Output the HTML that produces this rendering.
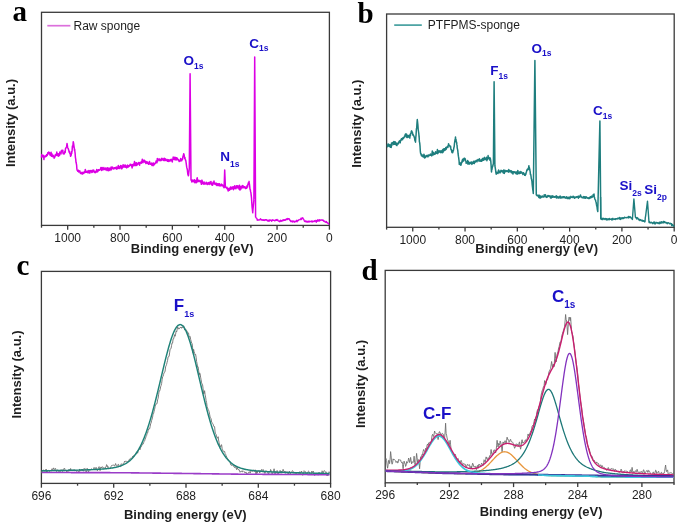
<!DOCTYPE html>
<html><head><meta charset="utf-8"><style>
html,body{margin:0;padding:0;background:#fff;}
svg{display:block;font-family:"Liberation Sans",sans-serif;will-change:transform;filter:blur(0.35px);}
</style></head><body>
<svg width="685" height="524" viewBox="0 0 685 524">
<text x="12.6" y="21.2" font-family="Liberation Serif" font-size="29" font-weight="bold" fill="#000">a</text>
<rect x="41.5" y="12.3" width="287.9" height="213.1" fill="none" stroke="#3a3a3a" stroke-width="1.3"/>
<line x1="41.50" y1="225.4" x2="41.50" y2="227.70000000000002" stroke="#3a3a3a" stroke-width="1.3"/>
<line x1="67.67" y1="225.4" x2="67.67" y2="229.70000000000002" stroke="#3a3a3a" stroke-width="1.3"/>
<text x="67.67" y="241.60" font-size="12" text-anchor="middle" fill="#1e1e1e">1000</text>
<line x1="93.85" y1="225.4" x2="93.85" y2="227.70000000000002" stroke="#3a3a3a" stroke-width="1.3"/>
<line x1="120.02" y1="225.4" x2="120.02" y2="229.70000000000002" stroke="#3a3a3a" stroke-width="1.3"/>
<text x="120.02" y="241.60" font-size="12" text-anchor="middle" fill="#1e1e1e">800</text>
<line x1="146.19" y1="225.4" x2="146.19" y2="227.70000000000002" stroke="#3a3a3a" stroke-width="1.3"/>
<line x1="172.36" y1="225.4" x2="172.36" y2="229.70000000000002" stroke="#3a3a3a" stroke-width="1.3"/>
<text x="172.36" y="241.60" font-size="12" text-anchor="middle" fill="#1e1e1e">600</text>
<line x1="198.54" y1="225.4" x2="198.54" y2="227.70000000000002" stroke="#3a3a3a" stroke-width="1.3"/>
<line x1="224.71" y1="225.4" x2="224.71" y2="229.70000000000002" stroke="#3a3a3a" stroke-width="1.3"/>
<text x="224.71" y="241.60" font-size="12" text-anchor="middle" fill="#1e1e1e">400</text>
<line x1="250.88" y1="225.4" x2="250.88" y2="227.70000000000002" stroke="#3a3a3a" stroke-width="1.3"/>
<line x1="277.05" y1="225.4" x2="277.05" y2="229.70000000000002" stroke="#3a3a3a" stroke-width="1.3"/>
<text x="277.05" y="241.60" font-size="12" text-anchor="middle" fill="#1e1e1e">200</text>
<line x1="303.23" y1="225.4" x2="303.23" y2="227.70000000000002" stroke="#3a3a3a" stroke-width="1.3"/>
<line x1="329.40" y1="225.4" x2="329.40" y2="229.70000000000002" stroke="#3a3a3a" stroke-width="1.3"/>
<text x="329.40" y="241.60" font-size="12" text-anchor="middle" fill="#1e1e1e">0</text>
<text x="192.2" y="252.7" font-size="13" font-weight="bold" text-anchor="middle" fill="#1e1e1e">Binding energy (eV)</text>
<text transform="translate(15.4,123.0) rotate(-90)" font-size="13" font-weight="bold" text-anchor="middle" fill="#1e1e1e">Intensity (a.u.)</text>
<line x1="47.3" y1="25.7" x2="70.4" y2="25.7" stroke="#dc70dc" stroke-width="1.7"/>
<text x="73.5" y="29.8" font-size="12" fill="#1e1e1e">Raw sponge</text>
<text x="183.5" y="65.3" font-size="13.5" font-weight="bold" fill="#1a10c8">O<tspan font-size="8.5" dy="3.3">1s</tspan></text>
<text x="249.3" y="47.8" font-size="13.5" font-weight="bold" fill="#1a10c8">C<tspan font-size="8.5" dy="3.3">1s</tspan></text>
<text x="220.3" y="161.2" font-size="13.5" font-weight="bold" fill="#1a10c8">N<tspan font-size="8.5" dy="5.6">1s</tspan></text>
<path d="M41.50,157.68 L41.80,154.47 L42.10,157.08 L42.40,155.94 L42.70,155.84 L43.00,155.86 L43.10,155.42 L43.30,155.88 L43.60,155.43 L43.90,159.56 L44.20,156.76 L44.50,156.37 L44.80,156.58 L45.10,156.37 L45.10,156.70 L45.40,156.21 L45.70,156.62 L46.00,155.52 L46.30,156.24 L46.60,154.73 L46.90,154.52 L47.20,155.55 L47.50,154.18 L47.80,152.77 L48.10,152.66 L48.40,152.93 L48.70,153.84 L48.70,151.92 L49.00,152.27 L49.30,153.95 L49.60,152.66 L49.90,153.72 L50.20,155.34 L50.20,154.67 L50.50,154.77 L50.80,155.50 L51.10,152.36 L51.40,156.20 L51.70,154.50 L52.00,154.01 L52.30,156.04 L52.60,156.63 L52.90,155.72 L53.20,155.31 L53.50,156.54 L53.80,156.65 L54.10,158.21 L54.30,157.21 L54.40,157.04 L54.70,157.48 L55.00,155.80 L55.30,154.69 L55.60,155.70 L55.90,155.27 L56.20,154.08 L56.40,153.78 L56.50,154.32 L56.80,152.03 L57.10,155.36 L57.40,155.47 L57.70,153.74 L58.00,155.66 L58.30,154.98 L58.40,156.22 L58.60,153.79 L58.90,154.44 L59.20,155.56 L59.50,155.57 L59.80,152.01 L60.10,153.17 L60.40,153.53 L60.70,152.23 L61.00,153.90 L61.30,150.84 L61.60,151.89 L61.90,150.14 L62.00,151.40 L62.20,151.18 L62.50,151.15 L62.80,150.17 L63.10,153.70 L63.40,153.12 L63.70,153.42 L64.00,154.08 L64.30,153.63 L64.50,153.32 L64.60,152.39 L64.90,151.32 L65.20,152.32 L65.50,148.57 L65.80,148.33 L66.10,147.53 L66.40,146.99 L66.70,146.26 L67.00,143.47 L67.10,143.81 L67.30,145.06 L67.60,147.35 L67.90,148.06 L68.20,148.68 L68.50,149.32 L68.60,150.08 L68.80,150.30 L69.10,152.11 L69.40,151.38 L69.70,153.06 L70.00,153.63 L70.10,154.15 L70.30,154.15 L70.60,156.27 L70.90,155.17 L71.20,155.08 L71.50,151.62 L71.70,153.40 L71.80,152.18 L72.10,151.02 L72.40,146.11 L72.70,147.15 L73.00,144.81 L73.20,141.93 L73.30,141.84 L73.60,143.43 L73.90,145.65 L74.20,147.64 L74.50,150.40 L74.70,149.34 L74.80,151.02 L75.10,153.12 L75.40,157.33 L75.70,159.04 L76.00,162.32 L76.30,162.68 L76.30,163.65 L76.60,164.94 L76.90,169.15 L77.20,170.35 L77.30,170.31 L77.50,170.10 L77.80,171.19 L78.10,170.27 L78.40,170.25 L78.70,171.79 L78.80,172.10 L79.00,171.31 L79.30,171.23 L79.60,170.87 L79.90,170.93 L80.20,172.91 L80.50,173.44 L80.80,172.85 L81.10,173.38 L81.40,173.39 L81.70,173.63 L82.00,172.26 L82.30,173.49 L82.40,174.03 L82.60,173.06 L82.90,173.05 L83.20,172.42 L83.50,172.58 L83.80,173.41 L84.10,171.91 L84.40,171.85 L84.70,172.47 L85.00,172.01 L85.00,171.88 L85.30,169.39 L85.60,172.16 L85.90,170.87 L86.20,171.43 L86.50,172.07 L86.80,172.28 L87.10,172.22 L87.40,171.35 L87.70,172.71 L88.00,170.89 L88.30,171.00 L88.60,171.86 L88.90,170.56 L89.20,173.11 L89.50,172.00 L89.80,173.07 L90.10,170.96 L90.40,170.59 L90.70,171.09 L91.00,171.61 L91.10,170.73 L91.30,171.28 L91.60,170.93 L91.90,172.51 L92.20,170.38 L92.50,172.03 L92.80,170.45 L93.10,170.18 L93.40,170.45 L93.70,170.02 L94.00,171.32 L94.30,172.19 L94.60,171.40 L94.90,171.87 L95.20,172.85 L95.50,171.59 L95.80,171.55 L96.10,171.13 L96.20,170.94 L96.40,172.04 L96.70,169.53 L97.00,171.69 L97.30,170.93 L97.60,171.89 L97.90,170.64 L98.20,169.79 L98.50,170.79 L98.80,169.80 L99.10,170.03 L99.40,170.12 L99.70,169.83 L100.00,169.66 L100.30,168.92 L100.60,169.41 L100.90,167.43 L101.20,169.19 L101.30,168.96 L101.50,170.36 L101.80,170.49 L102.10,167.42 L102.40,169.41 L102.70,169.14 L103.00,168.26 L103.30,169.75 L103.60,168.80 L103.90,167.55 L104.20,168.97 L104.50,169.07 L104.80,169.31 L105.00,168.85 L105.10,169.77 L105.40,169.83 L105.70,167.99 L106.00,168.39 L106.30,168.89 L106.60,168.37 L106.90,170.51 L107.20,169.00 L107.50,167.79 L107.80,167.95 L108.10,168.59 L108.40,170.77 L108.70,168.36 L109.00,168.60 L109.30,168.91 L109.60,168.33 L109.90,170.48 L110.00,168.15 L110.20,168.98 L110.50,168.39 L110.80,168.78 L111.10,167.03 L111.40,169.79 L111.70,167.96 L112.00,168.06 L112.30,167.10 L112.60,167.26 L112.90,168.45 L113.20,168.81 L113.50,168.55 L113.80,168.94 L114.10,168.43 L114.40,167.74 L114.70,168.46 L115.00,168.19 L115.30,167.49 L115.60,168.24 L115.90,168.73 L116.20,167.69 L116.50,167.09 L116.70,167.60 L116.80,169.20 L117.10,167.16 L117.40,167.25 L117.70,167.18 L118.00,168.44 L118.30,165.50 L118.60,167.57 L118.90,168.33 L119.20,166.39 L119.50,168.55 L119.80,167.62 L120.10,166.56 L120.40,167.25 L120.70,165.57 L121.00,166.46 L121.30,168.70 L121.60,166.09 L121.90,168.66 L122.20,166.81 L122.50,167.80 L122.80,166.87 L123.10,164.67 L123.40,166.23 L123.70,166.92 L124.00,165.62 L124.30,165.41 L124.60,167.01 L124.90,166.01 L125.20,164.99 L125.50,165.92 L125.80,167.36 L126.10,166.07 L126.40,167.38 L126.70,167.91 L127.00,166.46 L127.30,165.33 L127.60,165.14 L127.90,166.32 L128.20,167.16 L128.40,166.38 L128.50,166.79 L128.80,165.76 L129.10,166.37 L129.40,165.55 L129.70,165.60 L130.00,164.59 L130.30,164.23 L130.60,165.18 L130.90,164.49 L131.20,164.54 L131.50,166.00 L131.80,165.17 L132.10,167.95 L132.40,165.97 L132.70,164.40 L133.00,165.65 L133.30,165.16 L133.60,164.08 L133.90,165.69 L134.20,163.81 L134.50,161.55 L134.80,165.12 L135.10,163.69 L135.40,165.60 L135.70,163.48 L136.00,162.88 L136.30,165.39 L136.60,162.80 L136.90,163.93 L137.20,165.02 L137.50,163.66 L137.80,163.39 L138.10,163.47 L138.40,164.08 L138.70,162.43 L139.00,163.68 L139.30,163.56 L139.60,165.14 L139.90,162.51 L140.00,162.54 L140.20,163.40 L140.50,162.17 L140.80,162.66 L141.10,162.36 L141.40,163.19 L141.70,161.30 L142.00,161.68 L142.30,159.19 L142.60,160.62 L142.90,162.77 L143.20,160.51 L143.50,160.33 L143.50,160.65 L143.80,161.66 L144.10,161.39 L144.40,160.21 L144.70,162.08 L145.00,161.81 L145.30,162.39 L145.60,161.17 L145.90,163.54 L146.20,162.39 L146.50,162.01 L146.80,161.74 L147.10,162.11 L147.40,163.27 L147.70,162.31 L148.00,163.70 L148.30,163.34 L148.60,164.18 L148.90,163.78 L149.20,163.06 L149.50,161.42 L149.80,163.63 L150.10,164.21 L150.40,163.72 L150.70,164.21 L151.00,163.34 L151.30,163.54 L151.60,163.12 L151.90,165.42 L152.20,164.39 L152.50,163.88 L152.80,163.20 L152.90,164.46 L153.10,165.69 L153.40,164.49 L153.70,163.09 L154.00,164.87 L154.30,164.60 L154.60,163.91 L154.90,163.46 L155.20,163.54 L155.50,162.69 L155.80,162.64 L156.10,160.89 L156.40,162.79 L156.70,161.31 L157.00,162.75 L157.30,158.62 L157.60,160.96 L157.90,160.95 L158.20,159.42 L158.50,159.91 L158.70,159.51 L158.80,159.86 L159.10,158.83 L159.40,159.24 L159.70,160.37 L160.00,160.65 L160.30,159.56 L160.60,159.57 L160.90,159.72 L161.20,160.55 L161.50,158.59 L161.80,158.36 L162.10,159.77 L162.40,158.64 L162.70,159.16 L163.00,159.83 L163.30,160.24 L163.60,158.79 L163.90,160.61 L164.20,158.19 L164.50,160.43 L164.80,158.44 L165.10,158.76 L165.40,160.61 L165.70,159.65 L166.00,159.31 L166.30,159.67 L166.60,160.57 L166.90,160.11 L167.20,160.16 L167.50,161.22 L167.80,159.57 L168.10,159.84 L168.40,159.82 L168.70,161.46 L169.00,161.32 L169.20,160.77 L169.30,160.34 L169.60,160.13 L169.90,161.00 L170.20,159.73 L170.50,160.81 L170.80,160.62 L171.10,159.18 L171.40,159.68 L171.70,159.55 L172.00,161.23 L172.30,161.95 L172.60,159.31 L172.90,159.33 L173.20,157.06 L173.50,159.34 L173.80,159.05 L174.10,157.94 L174.40,159.62 L174.70,157.30 L175.00,158.50 L175.00,158.74 L175.30,157.59 L175.60,159.68 L175.90,159.95 L176.20,157.71 L176.50,157.77 L176.80,159.76 L177.10,159.24 L177.40,158.20 L177.70,159.15 L178.00,159.41 L178.30,159.46 L178.60,160.46 L178.90,160.12 L179.20,161.52 L179.50,161.22 L179.80,160.64 L179.80,160.31 L180.10,161.13 L180.40,160.42 L180.70,158.46 L181.00,160.32 L181.30,159.44 L181.60,160.79 L181.90,159.21 L182.20,159.50 L182.20,159.09 L182.50,159.62 L182.80,157.22 L183.10,155.82 L183.40,155.39 L183.70,153.71 L183.80,153.85 L184.00,154.52 L184.30,155.88 L184.60,158.54 L184.90,157.43 L185.20,158.94 L185.50,159.81 L185.50,160.19 L185.80,160.54 L186.10,162.66 L186.40,164.94 L186.70,167.15 L187.00,168.25 L187.30,169.47 L187.40,170.25 L187.60,172.05 L187.90,174.52 L188.20,175.05 L188.40,175.85 L188.50,175.42 L188.80,172.60 L189.10,170.20 L189.30,168.60 L189.40,156.75 L189.70,121.20 L190.00,85.65 L190.10,73.80 L190.30,97.40 L190.60,132.80 L190.90,168.20 L191.00,180.00 L191.20,180.10 L191.50,180.25 L191.80,181.93 L192.10,180.11 L192.20,180.96 L192.40,180.74 L192.70,180.39 L193.00,180.72 L193.30,181.81 L193.60,180.23 L193.90,180.79 L194.20,180.78 L194.50,179.71 L194.80,182.67 L195.00,181.66 L195.10,181.46 L195.40,182.51 L195.70,180.43 L196.00,181.20 L196.30,182.84 L196.60,182.06 L196.90,178.95 L197.20,177.83 L197.50,179.94 L197.80,181.86 L198.10,180.34 L198.40,180.51 L198.70,181.22 L198.90,180.35 L199.00,180.85 L199.30,181.56 L199.60,181.40 L199.90,181.49 L200.20,180.69 L200.50,181.91 L200.80,181.16 L201.10,182.96 L201.40,184.32 L201.70,181.33 L202.00,180.12 L202.30,181.93 L202.60,182.85 L202.90,183.64 L203.20,183.82 L203.50,182.20 L203.60,182.77 L203.80,184.22 L204.10,182.00 L204.40,184.10 L204.70,182.88 L205.00,183.84 L205.30,183.81 L205.60,183.90 L205.90,183.97 L206.20,182.28 L206.50,183.52 L206.80,183.28 L207.10,183.58 L207.40,184.49 L207.70,183.08 L208.00,182.69 L208.30,182.70 L208.40,183.31 L208.60,184.10 L208.90,182.58 L209.20,184.43 L209.50,183.58 L209.80,183.07 L210.10,181.99 L210.40,183.47 L210.70,183.87 L211.00,181.51 L211.30,184.29 L211.60,184.70 L211.90,183.43 L212.20,183.55 L212.50,185.35 L212.80,184.20 L213.10,182.16 L213.20,183.00 L213.40,182.91 L213.70,183.00 L214.00,180.99 L214.30,184.04 L214.60,182.80 L214.90,183.65 L215.20,183.45 L215.50,184.50 L215.80,183.48 L216.10,183.09 L216.40,184.44 L216.70,185.36 L217.00,183.80 L217.30,185.50 L217.60,184.53 L217.90,183.86 L218.00,184.83 L218.20,183.68 L218.50,185.51 L218.80,184.17 L219.10,185.16 L219.40,183.64 L219.70,184.11 L220.00,186.01 L220.30,185.26 L220.60,185.21 L220.90,184.85 L221.20,185.78 L221.50,184.12 L221.80,184.47 L222.10,185.47 L222.40,184.92 L222.70,185.13 L222.70,185.78 L223.00,186.08 L223.30,186.61 L223.60,187.02 L223.90,187.43 L224.10,187.70 L224.20,184.75 L224.50,175.90 L224.70,170.00 L224.80,172.46 L225.10,179.83 L225.40,187.20 L225.40,187.20 L225.70,187.35 L226.00,187.50 L226.30,187.65 L226.60,188.27 L226.90,187.20 L227.20,188.88 L227.50,188.14 L227.80,189.22 L228.10,190.99 L228.40,189.58 L228.40,189.36 L228.70,188.83 L229.00,188.31 L229.30,189.85 L229.60,190.18 L229.90,187.98 L230.20,188.54 L230.50,187.07 L230.80,188.20 L231.10,189.20 L231.40,188.23 L231.70,187.74 L232.00,186.90 L232.30,188.55 L232.30,188.43 L232.60,188.71 L232.90,188.33 L233.20,186.82 L233.50,189.65 L233.80,187.87 L234.10,187.73 L234.40,188.51 L234.70,185.70 L235.00,187.64 L235.30,187.52 L235.60,187.95 L235.90,188.82 L236.20,187.93 L236.50,185.69 L236.80,187.05 L237.10,187.51 L237.20,187.34 L237.40,186.14 L237.70,185.85 L238.00,188.03 L238.30,187.92 L238.60,187.65 L238.90,186.11 L239.20,189.52 L239.50,185.16 L239.80,187.65 L240.10,190.06 L240.20,188.06 L240.40,188.22 L240.70,186.74 L241.00,189.00 L241.30,186.34 L241.60,187.66 L241.90,187.41 L242.20,186.13 L242.50,187.83 L242.80,185.50 L243.10,186.05 L243.30,186.59 L243.40,186.26 L243.70,187.24 L244.00,187.83 L244.30,186.82 L244.60,186.74 L244.90,186.91 L245.20,187.20 L245.50,188.47 L245.80,187.64 L246.10,188.39 L246.30,188.07 L246.40,187.11 L246.70,188.16 L247.00,185.79 L247.30,186.21 L247.60,187.05 L247.90,184.03 L248.20,184.45 L248.50,182.43 L248.80,182.88 L249.10,181.38 L249.10,182.70 L249.40,183.94 L249.70,186.23 L250.00,189.26 L250.30,189.66 L250.60,191.64 L250.90,192.66 L250.90,192.64 L251.20,195.30 L251.50,197.84 L251.80,202.65 L252.10,207.13 L252.40,209.55 L252.70,212.12 L252.70,212.85 L253.00,209.08 L253.30,206.25 L253.60,203.13 L253.90,200.00 L253.90,200.00 L254.20,146.38 L254.50,92.75 L254.70,57.00 L254.80,74.78 L255.10,128.11 L255.40,181.44 L255.60,217.00 L255.70,217.17" fill="none" stroke="#dc00e4" stroke-width="1.5" stroke-linejoin="round"/>
<path d="M255.60,217.00 L255.70,217.17 L256.00,217.68 L256.30,218.19 L256.60,218.19 L256.90,218.54 L257.20,220.24 L257.30,220.03 L257.50,219.28 L257.80,219.98 L258.10,219.91 L258.40,220.12 L258.70,219.98 L259.00,219.70 L259.30,219.98 L259.60,219.96 L259.90,219.88 L260.20,219.16 L260.50,218.70 L260.80,219.58 L261.10,219.25 L261.40,220.00 L261.70,220.19 L262.00,220.01 L262.30,219.75 L262.60,219.93 L262.90,220.37 L263.20,219.61 L263.50,220.27 L263.80,220.18 L264.10,220.00 L264.40,220.48 L264.60,219.81 L264.70,220.29 L265.00,219.57 L265.30,219.67 L265.60,219.59 L265.90,220.22 L266.20,219.70 L266.50,220.13 L266.80,219.69 L267.10,220.60 L267.40,220.94 L267.70,220.33 L268.00,220.93 L268.30,220.53 L268.60,221.21 L268.90,220.41 L269.20,219.78 L269.50,221.03 L269.80,220.42 L270.10,220.09 L270.40,220.27 L270.70,219.92 L271.00,220.53 L271.30,220.21 L271.60,221.26 L271.90,220.97 L271.90,220.50 L272.20,220.05 L272.50,220.38 L272.80,219.79 L273.10,220.47 L273.40,220.45 L273.70,220.11 L274.00,220.15 L274.30,220.52 L274.60,220.85 L274.90,220.83 L275.20,220.20 L275.50,220.48 L275.80,219.79 L276.10,220.21 L276.40,219.61 L276.70,220.24 L277.00,219.40 L277.00,219.78 L277.30,220.10 L277.60,220.53 L277.90,219.94 L278.20,220.50 L278.50,220.98 L278.80,221.22 L279.10,221.00 L279.20,221.41 L279.40,221.24 L279.70,221.83 L280.00,221.42 L280.30,220.59 L280.60,220.16 L280.90,221.00 L281.20,221.36 L281.50,220.87 L281.80,221.08 L282.10,220.46 L282.40,220.03 L282.70,220.79 L283.00,220.46 L283.30,220.61 L283.60,219.71 L283.90,220.26 L284.20,219.86 L284.50,220.35 L284.80,219.72 L285.00,219.83 L285.10,219.63 L285.40,220.27 L285.70,219.67 L286.00,219.25 L286.30,219.05 L286.60,218.94 L286.90,219.84 L287.20,218.42 L287.50,218.71 L287.80,219.20 L288.10,219.31 L288.40,218.68 L288.70,218.95 L289.00,218.84 L289.10,218.62 L289.30,218.84 L289.60,219.97 L289.90,219.88 L290.20,220.89 L290.50,220.32 L290.80,221.62 L290.90,221.25 L291.10,220.81 L291.40,221.61 L291.70,221.08 L292.00,221.59 L292.30,220.98 L292.60,222.06 L292.90,221.42 L293.20,220.96 L293.50,221.49 L293.80,221.77 L294.10,221.11 L294.40,221.62 L294.70,222.24 L295.00,221.77 L295.30,221.42 L295.60,221.19 L295.90,221.65 L296.20,220.81 L296.50,220.21 L296.70,221.33 L296.80,220.93 L297.10,221.88 L297.40,221.05 L297.70,220.42 L298.00,220.17 L298.30,220.65 L298.60,219.94 L298.90,219.86 L299.20,219.87 L299.50,219.76 L299.80,219.58 L300.10,219.41 L300.40,219.70 L300.70,219.68 L301.00,218.16 L301.30,219.67 L301.60,218.51 L301.90,218.77 L302.20,217.80 L302.50,218.04 L302.80,217.82 L302.80,217.72 L303.10,218.65 L303.40,219.15 L303.70,219.08 L304.00,220.02 L304.30,220.94 L304.60,221.51 L304.70,221.37 L304.90,221.32 L305.20,221.37 L305.50,220.99 L305.80,220.92 L306.10,222.06 L306.40,221.27 L306.70,221.47 L307.00,221.13 L307.30,221.95 L307.60,222.13 L307.90,221.34 L308.20,221.64 L308.50,221.13 L308.80,222.14 L309.10,221.80 L309.40,221.09 L309.70,221.93 L310.00,221.57 L310.30,221.60 L310.60,221.57 L310.90,221.16 L311.20,221.21 L311.30,221.48 L311.50,221.40 L311.80,221.02 L312.10,222.19 L312.40,221.27 L312.70,221.11 L313.00,221.03 L313.30,221.57 L313.60,221.66 L313.90,221.35 L314.20,221.58 L314.50,220.61 L314.80,221.04 L315.10,220.98 L315.40,221.15 L315.70,221.32 L316.00,220.29 L316.30,222.34 L316.60,220.72 L316.90,221.18 L317.20,221.36 L317.20,221.11 L317.50,221.06 L317.80,219.73 L318.10,220.39 L318.40,221.07 L318.70,220.33 L319.00,220.21 L319.30,219.63 L319.60,220.99 L319.90,220.64 L320.20,220.01 L320.50,220.25 L320.80,220.20 L321.10,219.73 L321.40,220.00 L321.70,220.14 L322.00,220.20 L322.30,220.42 L322.30,219.91 L322.60,219.92 L322.90,220.46 L323.20,220.25 L323.50,220.19 L323.80,221.35 L324.10,220.94 L324.40,221.33 L324.70,221.74 L325.00,221.23 L325.20,221.88 L325.30,222.04 L325.60,221.96 L325.90,222.30 L326.20,221.98 L326.50,221.54 L326.80,222.45 L327.10,222.34 L327.40,223.20 L327.70,223.10 L328.00,222.92 L328.30,223.29 L328.60,223.96 L328.90,224.01 L329.00,223.65" fill="none" stroke="#dc00e4" stroke-width="1.3" stroke-linejoin="round"/>
<text x="357.4" y="22.6" font-family="Liberation Serif" font-size="29" font-weight="bold" fill="#000">b</text>
<rect x="386.6" y="14.0" width="287.6" height="213.3" fill="none" stroke="#3a3a3a" stroke-width="1.3"/>
<line x1="386.60" y1="227.3" x2="386.60" y2="229.60000000000002" stroke="#3a3a3a" stroke-width="1.3"/>
<line x1="412.75" y1="227.3" x2="412.75" y2="231.60000000000002" stroke="#3a3a3a" stroke-width="1.3"/>
<text x="412.75" y="243.50" font-size="12" text-anchor="middle" fill="#1e1e1e">1000</text>
<line x1="438.89" y1="227.3" x2="438.89" y2="229.60000000000002" stroke="#3a3a3a" stroke-width="1.3"/>
<line x1="465.04" y1="227.3" x2="465.04" y2="231.60000000000002" stroke="#3a3a3a" stroke-width="1.3"/>
<text x="465.04" y="243.50" font-size="12" text-anchor="middle" fill="#1e1e1e">800</text>
<line x1="491.18" y1="227.3" x2="491.18" y2="229.60000000000002" stroke="#3a3a3a" stroke-width="1.3"/>
<line x1="517.33" y1="227.3" x2="517.33" y2="231.60000000000002" stroke="#3a3a3a" stroke-width="1.3"/>
<text x="517.33" y="243.50" font-size="12" text-anchor="middle" fill="#1e1e1e">600</text>
<line x1="543.47" y1="227.3" x2="543.47" y2="229.60000000000002" stroke="#3a3a3a" stroke-width="1.3"/>
<line x1="569.62" y1="227.3" x2="569.62" y2="231.60000000000002" stroke="#3a3a3a" stroke-width="1.3"/>
<text x="569.62" y="243.50" font-size="12" text-anchor="middle" fill="#1e1e1e">400</text>
<line x1="595.76" y1="227.3" x2="595.76" y2="229.60000000000002" stroke="#3a3a3a" stroke-width="1.3"/>
<line x1="621.91" y1="227.3" x2="621.91" y2="231.60000000000002" stroke="#3a3a3a" stroke-width="1.3"/>
<text x="621.91" y="243.50" font-size="12" text-anchor="middle" fill="#1e1e1e">200</text>
<line x1="648.05" y1="227.3" x2="648.05" y2="229.60000000000002" stroke="#3a3a3a" stroke-width="1.3"/>
<line x1="674.20" y1="227.3" x2="674.20" y2="231.60000000000002" stroke="#3a3a3a" stroke-width="1.3"/>
<text x="674.20" y="243.50" font-size="12" text-anchor="middle" fill="#1e1e1e">0</text>
<text x="536.7" y="252.5" font-size="13" font-weight="bold" text-anchor="middle" fill="#1e1e1e">Binding energy (eV)</text>
<text transform="translate(361.0,123.7) rotate(-90)" font-size="13" font-weight="bold" text-anchor="middle" fill="#1e1e1e">Intensity (a.u.)</text>
<line x1="394.2" y1="25.1" x2="421.8" y2="25.1" stroke="#3a9a9a" stroke-width="1.6"/>
<text x="427.8" y="29.3" font-size="12" fill="#1e1e1e">PTFPMS-sponge</text>
<text x="490.3" y="75.3" font-size="13.5" font-weight="bold" fill="#1a10c8">F<tspan font-size="8.5" dy="3.3">1s</tspan></text>
<text x="531.6" y="52.5" font-size="13.5" font-weight="bold" fill="#1a10c8">O<tspan font-size="8.5" dy="3.3">1s</tspan></text>
<text x="593.1" y="115.2" font-size="13.5" font-weight="bold" fill="#1a10c8">C<tspan font-size="8.5" dy="3.3">1s</tspan></text>
<text x="619.6" y="189.8" font-size="13.5" font-weight="bold" fill="#1a10c8">Si<tspan font-size="8.5" dy="5.7">2s</tspan></text>
<text x="644.2" y="194.2" font-size="13.5" font-weight="bold" fill="#1a10c8">Si<tspan font-size="8.5" dy="5.4">2p</tspan></text>
<path d="M387.00,144.51 L387.30,144.72 L387.60,146.64 L387.90,145.87 L388.20,143.87 L388.50,145.60 L388.80,145.20 L389.10,146.11 L389.40,144.63 L389.70,146.57 L390.00,146.74 L390.30,147.15 L390.30,147.00 L390.60,146.74 L390.90,144.40 L391.20,147.50 L391.50,143.11 L391.80,145.52 L392.10,143.72 L392.40,142.75 L392.70,142.52 L393.00,142.51 L393.00,143.06 L393.30,142.75 L393.60,144.40 L393.90,141.42 L394.20,143.30 L394.50,142.61 L394.80,144.33 L395.10,141.74 L395.40,143.57 L395.70,144.25 L396.00,142.79 L396.30,145.28 L396.60,144.67 L396.90,145.60 L397.00,144.97 L397.20,143.53 L397.50,143.33 L397.80,143.53 L398.10,144.06 L398.40,143.79 L398.70,141.95 L399.00,141.68 L399.30,141.13 L399.60,140.97 L399.70,141.33 L399.90,141.08 L400.20,142.85 L400.50,140.12 L400.80,140.03 L401.10,140.43 L401.40,138.80 L401.70,139.05 L402.00,139.11 L402.30,139.53 L402.40,138.33 L402.60,139.75 L402.90,137.76 L403.20,137.89 L403.50,138.17 L403.80,137.63 L404.10,137.64 L404.40,136.44 L404.70,135.89 L405.00,135.85 L405.30,134.25 L405.60,135.97 L405.70,134.48 L405.90,133.67 L406.20,137.05 L406.50,135.23 L406.80,134.49 L407.10,137.59 L407.40,135.78 L407.70,137.34 L408.00,135.80 L408.30,136.59 L408.60,135.48 L408.90,135.52 L409.00,137.12 L409.20,136.93 L409.50,137.15 L409.80,138.09 L410.10,134.23 L410.40,135.55 L410.70,133.43 L411.00,133.26 L411.30,131.41 L411.60,130.81 L411.70,131.78 L411.90,131.22 L412.20,132.85 L412.50,132.70 L412.80,135.05 L413.10,134.52 L413.40,135.05 L413.70,135.72 L413.70,135.89 L414.00,136.36 L414.30,137.31 L414.60,138.29 L414.90,140.41 L415.20,141.14 L415.50,141.50 L415.50,142.15 L415.80,137.22 L416.10,134.55 L416.40,129.07 L416.70,128.00 L417.00,123.15 L417.30,119.45 L417.30,119.96 L417.60,122.39 L417.90,125.16 L418.20,129.52 L418.50,131.51 L418.80,133.54 L419.10,137.52 L419.10,135.80 L419.40,141.78 L419.70,142.89 L420.00,145.91 L420.30,150.81 L420.60,153.54 L420.80,153.43 L420.90,154.10 L421.20,154.89 L421.50,155.80 L421.80,154.45 L422.10,155.05 L422.40,156.42 L422.70,155.88 L423.00,156.69 L423.30,156.90 L423.60,155.62 L423.70,156.56 L423.90,154.29 L424.20,156.47 L424.50,157.91 L424.80,155.57 L425.10,157.71 L425.40,157.44 L425.70,156.40 L426.00,156.39 L426.30,156.42 L426.60,155.49 L426.90,155.98 L427.20,156.14 L427.50,156.71 L427.70,156.32 L427.80,155.35 L428.10,156.67 L428.40,155.02 L428.70,155.44 L429.00,155.80 L429.30,155.28 L429.60,155.03 L429.90,155.25 L430.20,154.33 L430.50,154.09 L430.80,154.36 L431.10,155.30 L431.40,154.15 L431.70,155.88 L432.00,154.15 L432.30,151.02 L432.60,153.24 L432.90,155.06 L433.10,153.40 L433.20,152.97 L433.50,152.49 L433.80,154.46 L434.10,154.09 L434.40,153.71 L434.70,153.41 L435.00,154.28 L435.30,153.63 L435.60,151.64 L435.90,153.43 L436.20,152.80 L436.50,152.46 L436.80,153.20 L437.10,152.45 L437.40,149.61 L437.70,153.72 L438.00,153.17 L438.30,152.01 L438.40,152.00 L438.60,152.26 L438.90,150.78 L439.20,152.19 L439.50,151.62 L439.80,151.43 L440.10,150.83 L440.40,150.99 L440.70,152.58 L441.00,152.72 L441.30,151.87 L441.60,151.29 L441.90,150.44 L442.20,151.85 L442.50,152.61 L442.80,149.54 L443.10,152.06 L443.40,148.88 L443.70,150.51 L443.80,150.91 L444.00,149.26 L444.30,148.73 L444.60,149.91 L444.90,150.16 L445.20,148.50 L445.50,149.80 L445.80,147.42 L446.10,149.38 L446.40,147.46 L446.70,147.17 L447.00,147.13 L447.30,146.46 L447.60,147.48 L447.90,147.41 L448.20,145.47 L448.40,144.65 L448.50,143.71 L448.80,144.40 L449.10,145.41 L449.40,145.61 L449.70,145.96 L450.00,146.30 L450.30,147.06 L450.40,146.32 L450.60,146.36 L450.90,149.27 L451.20,149.92 L451.50,149.56 L451.80,152.17 L452.10,151.26 L452.40,152.73 L452.40,151.11 L452.70,152.58 L453.00,150.78 L453.30,150.77 L453.60,149.43 L453.80,148.13 L453.90,147.58 L454.20,146.53 L454.50,143.26 L454.80,141.26 L455.10,139.46 L455.40,138.13 L455.50,136.96 L455.70,139.58 L456.00,139.36 L456.30,142.24 L456.60,142.10 L456.90,144.90 L457.10,145.44 L457.20,147.84 L457.50,149.20 L457.80,150.62 L458.10,153.97 L458.40,156.16 L458.70,157.95 L459.00,160.37 L459.10,161.15 L459.30,164.48 L459.60,162.79 L459.90,164.30 L460.20,163.05 L460.50,163.85 L460.70,165.27 L460.80,164.89 L461.10,164.81 L461.40,162.18 L461.70,162.65 L462.00,162.59 L462.20,160.26 L462.30,161.31 L462.60,159.33 L462.90,160.29 L463.20,160.06 L463.50,161.08 L463.80,158.59 L464.10,159.13 L464.40,159.69 L464.50,158.29 L464.70,158.91 L465.00,158.52 L465.30,159.07 L465.60,160.76 L465.90,161.18 L466.20,163.31 L466.50,162.61 L466.80,162.93 L467.10,161.99 L467.40,162.43 L467.40,162.67 L467.70,160.50 L468.00,164.19 L468.30,162.09 L468.60,161.79 L468.90,162.40 L469.20,163.68 L469.50,164.08 L469.80,162.64 L470.10,163.44 L470.40,163.04 L470.70,162.23 L471.00,163.36 L471.30,163.29 L471.60,161.90 L471.90,164.38 L472.20,162.97 L472.20,163.64 L472.50,162.28 L472.80,162.31 L473.10,162.23 L473.40,163.35 L473.70,161.36 L474.00,162.16 L474.30,163.58 L474.60,161.33 L474.90,161.76 L475.20,162.22 L475.50,160.89 L475.80,161.68 L476.10,160.45 L476.40,161.52 L476.70,160.75 L477.00,160.25 L477.00,161.81 L477.30,160.37 L477.60,160.14 L477.90,159.49 L478.20,159.85 L478.50,160.14 L478.80,160.33 L479.10,161.12 L479.40,158.84 L479.70,159.68 L480.00,161.04 L480.30,160.05 L480.60,160.20 L480.90,161.23 L481.20,160.02 L481.50,160.08 L481.70,159.59 L481.80,161.21 L482.10,160.49 L482.40,158.80 L482.70,159.91 L483.00,158.29 L483.30,160.27 L483.60,159.83 L483.90,159.00 L484.20,158.72 L484.50,157.38 L484.80,159.66 L485.10,158.79 L485.40,158.55 L485.70,159.43 L486.00,158.10 L486.30,158.11 L486.50,158.41 L486.60,157.35 L486.90,160.75 L487.20,158.33 L487.50,158.14 L487.80,159.24 L488.10,155.49 L488.40,158.31 L488.70,158.30 L489.00,157.36 L489.30,158.63 L489.40,157.64 L489.60,158.66 L489.90,160.17 L490.20,158.02 L490.50,159.43 L490.80,161.44 L490.80,161.42 L491.10,165.33 L491.40,170.74 L491.50,172.04 L491.70,169.71 L492.00,169.42 L492.30,166.91 L492.60,166.77 L492.70,166.30 L492.90,165.47 L493.20,164.23 L493.40,163.40 L493.50,151.73 L493.80,116.71 L494.10,81.70 L494.10,81.70 L494.40,113.20 L494.70,144.70 L494.90,165.70 L495.00,166.33 L495.30,168.22 L495.60,170.12 L495.90,172.56 L496.20,174.24 L496.20,173.23 L496.50,173.28 L496.80,172.34 L497.10,173.19 L497.40,172.58 L497.70,172.63 L498.00,173.51 L498.30,170.83 L498.50,171.67 L498.60,170.11 L498.90,172.39 L499.20,170.98 L499.50,171.32 L499.80,171.51 L500.10,172.89 L500.40,171.36 L500.70,170.94 L501.00,170.31 L501.30,171.64 L501.60,170.61 L501.90,170.93 L502.20,171.37 L502.50,172.00 L502.80,170.74 L503.10,172.00 L503.40,173.00 L503.70,170.03 L504.00,172.63 L504.30,173.35 L504.40,171.31 L504.60,171.96 L504.90,170.18 L505.20,171.76 L505.50,171.17 L505.80,171.77 L506.10,170.68 L506.40,170.79 L506.70,171.15 L507.00,170.93 L507.30,171.03 L507.60,171.43 L507.90,170.62 L508.20,171.52 L508.50,172.11 L508.80,169.59 L509.10,171.89 L509.40,171.06 L509.70,170.73 L510.00,170.55 L510.30,171.02 L510.60,171.13 L510.90,172.14 L511.20,170.70 L511.50,172.82 L511.80,171.15 L512.10,172.54 L512.40,172.93 L512.60,171.72 L512.70,172.94 L513.00,173.98 L513.30,171.63 L513.60,172.60 L513.90,171.98 L514.20,172.21 L514.50,171.99 L514.80,171.74 L515.10,172.88 L515.40,173.05 L515.70,172.28 L516.00,173.68 L516.30,173.32 L516.60,173.00 L516.90,171.74 L517.20,174.14 L517.50,173.64 L517.80,170.52 L518.10,171.48 L518.40,172.08 L518.70,173.39 L519.00,173.69 L519.30,172.32 L519.60,172.83 L519.90,173.26 L520.20,171.50 L520.50,173.21 L520.70,172.62 L520.80,172.90 L521.10,172.81 L521.40,171.90 L521.70,172.18 L522.00,173.23 L522.30,173.43 L522.60,173.19 L522.90,174.50 L523.20,173.33 L523.50,172.67 L523.80,173.57 L524.10,173.84 L524.40,174.00 L524.70,175.28 L525.00,174.81 L525.30,175.41 L525.40,174.67 L525.60,173.85 L525.90,174.18 L526.20,172.25 L526.50,171.96 L526.80,170.08 L527.10,170.32 L527.40,169.18 L527.70,169.06 L528.00,169.61 L528.30,169.35 L528.60,167.38 L528.90,165.69 L528.90,166.45 L529.20,167.36 L529.50,168.06 L529.80,170.00 L530.10,171.43 L530.10,170.96 L530.40,174.41 L530.70,174.34 L531.00,176.04 L531.30,178.78 L531.60,179.18 L531.80,180.59 L531.90,181.00 L532.20,184.76 L532.50,187.22 L532.80,189.71 L533.10,191.58 L533.30,193.46 L533.40,185.37 L533.70,160.40 L534.00,135.42 L534.30,110.45 L534.60,85.47 L534.90,60.50 L534.90,60.50 L535.20,89.30 L535.50,118.10 L535.80,146.90 L536.10,175.70 L536.30,194.90 L536.40,194.96 L536.70,195.09 L537.00,195.74 L537.30,195.44 L537.60,195.18 L537.90,196.05 L538.20,196.18 L538.50,195.25 L538.80,197.39 L539.10,196.81 L539.40,195.31 L539.70,196.52 L540.00,197.52 L540.00,198.17 L540.30,197.29 L540.60,196.02 L540.90,196.80 L541.20,197.48 L541.50,196.99 L541.80,196.47 L542.10,196.13 L542.40,196.97 L542.70,196.26 L543.00,196.49 L543.30,196.50 L543.60,197.09 L543.90,196.13 L544.20,195.95 L544.20,194.86 L544.50,196.62 L544.80,196.52 L545.10,196.01 L545.40,194.69 L545.70,195.74 L546.00,196.15 L546.30,197.39 L546.60,196.52 L546.90,196.67 L547.20,196.72 L547.50,197.05 L547.80,195.62 L548.10,195.82 L548.40,195.65 L548.70,196.21 L549.00,196.20 L549.30,196.50 L549.60,195.87 L549.90,196.56 L550.20,196.03 L550.50,197.82 L550.80,196.28 L551.10,198.13 L551.40,197.62 L551.70,195.98 L552.00,197.28 L552.30,197.10 L552.60,195.87 L552.90,197.17 L553.20,196.78 L553.50,197.07 L553.80,196.40 L554.10,196.89 L554.40,197.20 L554.70,196.88 L555.00,196.66 L555.30,196.96 L555.60,196.51 L555.90,197.31 L556.20,195.64 L556.50,198.06 L556.80,197.24 L557.10,197.51 L557.40,197.77 L557.70,196.57 L557.90,197.71 L558.00,196.66 L558.30,197.60 L558.60,197.53 L558.90,198.12 L559.20,197.35 L559.50,196.55 L559.80,197.57 L560.10,195.95 L560.40,197.28 L560.70,197.14 L561.00,198.33 L561.30,197.27 L561.60,197.18 L561.90,197.01 L562.20,196.96 L562.50,197.15 L562.80,197.83 L563.10,196.72 L563.40,197.38 L563.70,196.66 L564.00,197.42 L564.30,197.62 L564.60,196.82 L564.90,197.22 L565.20,197.62 L565.50,198.01 L565.80,198.13 L566.10,197.52 L566.40,197.02 L566.70,196.67 L567.00,198.07 L567.30,198.43 L567.60,197.85 L567.90,198.55 L568.20,197.40 L568.50,197.44 L568.80,198.59 L569.10,197.11 L569.40,197.80 L569.40,197.92 L569.70,197.76 L570.00,198.64 L570.30,197.11 L570.60,197.34 L570.90,196.35 L571.20,196.92 L571.50,197.20 L571.80,197.24 L572.10,197.32 L572.40,197.58 L572.70,197.00 L573.00,196.21 L573.30,197.41 L573.60,197.54 L573.90,196.60 L574.20,196.78 L574.50,198.22 L574.80,197.77 L575.10,197.77 L575.40,197.50 L575.70,197.18 L576.00,196.77 L576.30,197.36 L576.60,196.89 L576.90,196.72 L577.20,196.94 L577.50,196.87 L577.80,197.40 L578.10,196.31 L578.40,198.25 L578.70,196.23 L579.00,196.53 L579.30,197.28 L579.60,196.24 L579.90,196.41 L580.20,196.67 L580.50,194.94 L580.80,196.51 L580.80,196.05 L581.10,196.52 L581.40,197.01 L581.70,197.16 L582.00,197.71 L582.30,197.74 L582.60,197.57 L582.90,197.03 L583.20,197.71 L583.50,196.61 L583.80,197.19 L584.10,198.12 L584.40,197.82 L584.70,196.64 L585.00,197.40 L585.00,198.01 L585.30,197.90 L585.60,198.21 L585.90,196.65 L586.20,196.98 L586.50,197.60 L586.80,197.24 L587.10,197.82 L587.40,197.89 L587.70,198.13 L588.00,197.91 L588.30,198.35 L588.60,198.52 L588.90,198.22 L589.20,197.49 L589.40,198.42 L589.50,198.27 L589.80,198.19 L590.10,197.85 L590.40,196.65 L590.70,197.68 L591.00,196.79 L591.30,196.27 L591.60,197.48 L591.90,196.39 L592.20,196.53 L592.50,196.67 L592.80,196.88 L593.10,194.76 L593.40,195.16 L593.70,195.75 L593.80,195.19 L594.00,194.09 L594.30,196.89 L594.60,197.84 L594.90,199.05 L595.20,199.64 L595.50,200.16 L595.80,201.43 L596.00,201.90 L596.10,202.16 L596.40,204.16 L596.70,205.80 L597.00,206.62 L597.30,209.34 L597.60,210.81 L597.80,211.53 L597.90,205.58 L598.20,194.26 L598.50,181.27 L598.80,168.35 L599.10,155.44 L599.40,142.52 L599.70,129.61 L599.90,121.00 L600.00,131.86 L600.30,164.42 L600.60,196.99 L600.80,218.70 L600.90,218.71" fill="none" stroke="#1e7e7e" stroke-width="1.5" stroke-linejoin="round"/>
<path d="M600.60,196.99 L600.80,218.70 L600.90,218.71 L601.20,218.75 L601.50,219.46 L601.80,219.33 L602.10,218.27 L602.40,219.52 L602.70,219.65 L603.00,219.34 L603.30,218.82 L603.60,218.34 L603.90,218.65 L604.20,218.83 L604.50,219.25 L604.80,219.41 L605.10,218.86 L605.40,218.48 L605.70,219.07 L606.00,218.69 L606.30,219.93 L606.60,218.80 L606.90,219.46 L606.90,219.76 L607.20,218.93 L607.50,219.82 L607.80,219.28 L608.10,218.98 L608.40,218.89 L608.70,219.36 L609.00,219.78 L609.30,218.42 L609.60,219.55 L609.90,219.19 L610.20,218.90 L610.50,219.18 L610.80,219.21 L611.10,219.18 L611.40,219.56 L611.70,218.77 L612.00,220.06 L612.30,219.56 L612.60,218.88 L612.90,218.26 L613.20,219.11 L613.50,218.93 L613.80,219.44 L614.10,219.42 L614.20,219.36 L614.40,219.00 L614.70,219.38 L615.00,218.80 L615.30,218.78 L615.60,219.61 L615.90,218.82 L616.20,218.80 L616.50,218.65 L616.80,218.92 L617.10,219.01 L617.40,218.65 L617.70,218.14 L618.00,218.78 L618.30,218.22 L618.60,218.39 L618.90,218.62 L619.20,218.60 L619.50,217.39 L619.80,219.18 L620.10,218.74 L620.40,219.22 L620.70,219.44 L621.00,217.83 L621.30,217.97 L621.50,218.23 L621.60,218.61 L621.90,217.92 L622.20,217.97 L622.50,218.57 L622.80,217.64 L623.10,218.11 L623.40,218.47 L623.70,217.82 L624.00,218.26 L624.30,217.81 L624.60,217.11 L624.90,217.55 L625.20,217.67 L625.50,217.57 L625.80,217.70 L626.10,217.83 L626.40,217.75 L626.70,217.66 L627.00,217.35 L627.30,217.41 L627.60,217.30 L627.90,217.17 L628.20,218.02 L628.50,216.50 L628.80,217.43 L629.10,216.55 L629.40,216.98 L629.70,217.58 L630.00,217.05 L630.30,217.37 L630.30,216.71 L630.60,217.32 L630.90,217.48 L631.20,218.08 L631.50,218.24 L631.80,218.53 L632.10,219.05 L632.40,219.40 L632.40,219.40 L632.70,215.32 L633.00,211.24 L633.30,207.16 L633.60,203.08 L633.90,199.00 L633.90,199.00 L634.20,202.64 L634.50,206.28 L634.80,209.92 L635.10,213.56 L635.40,217.20 L635.40,217.20 L635.70,217.44 L636.00,217.58 L636.30,218.44 L636.60,218.89 L636.90,217.45 L637.20,218.61 L637.50,218.06 L637.80,217.97 L638.10,218.54 L638.40,219.43 L638.70,219.02 L639.00,219.32 L639.00,219.99 L639.30,219.70 L639.60,219.56 L639.90,220.53 L640.20,220.05 L640.50,219.61 L640.80,219.57 L641.10,219.98 L641.40,220.37 L641.70,220.83 L642.00,220.90 L642.30,220.68 L642.60,220.22 L642.90,221.28 L643.20,221.01 L643.50,220.59 L643.80,220.63 L644.10,221.40 L644.40,221.57 L644.70,221.89 L644.90,221.43 L645.00,221.68 L645.30,217.63 L645.60,216.08 L645.90,213.75 L646.20,211.40 L646.50,209.05 L646.80,206.69 L647.10,204.34 L647.40,201.98 L647.50,201.20 L647.70,204.01 L648.00,208.23 L648.30,212.45 L648.60,216.67 L648.90,220.89 L649.00,222.30 L649.20,222.53 L649.50,221.77 L649.80,222.48 L650.10,223.01 L650.40,222.49 L650.70,222.74 L651.00,222.73 L651.30,222.23 L651.60,222.44 L651.90,222.67 L652.20,222.91 L652.50,223.65 L652.80,223.51 L653.10,222.60 L653.40,222.65 L653.70,222.42 L654.00,221.87 L654.30,223.56 L654.60,223.24 L654.90,222.16 L655.10,223.09 L655.20,224.13 L655.50,223.26 L655.80,223.25 L656.10,223.09 L656.40,222.62 L656.70,222.41 L657.00,222.55 L657.30,222.97 L657.60,222.77 L657.90,223.17 L658.20,223.63 L658.50,223.08 L658.80,223.17 L659.10,222.61 L659.40,222.15 L659.70,223.71 L660.00,223.03 L660.30,223.21 L660.60,222.48 L660.90,221.86 L661.20,223.21 L661.50,221.60 L661.80,222.48 L662.10,222.29 L662.40,222.61 L662.70,222.86 L663.00,222.84 L663.30,221.48 L663.60,222.87 L663.90,221.53 L664.20,222.68 L664.50,222.15 L664.80,221.80 L665.10,222.06 L665.30,222.11 L665.40,222.30 L665.70,222.82 L666.00,222.83 L666.30,222.56 L666.60,223.12 L666.90,222.93 L667.20,223.76 L667.50,223.09 L667.80,222.66 L668.10,222.88 L668.40,222.74 L668.70,223.03 L669.00,223.18 L669.30,223.63 L669.60,223.75 L669.90,223.50 L670.20,223.75 L670.50,223.29 L670.80,223.46 L671.10,223.46 L671.10,223.43 L671.40,223.86 L671.70,225.56 L672.00,224.07 L672.30,225.01 L672.60,225.13 L672.90,224.86 L673.20,226.00 L673.50,226.19 L673.80,225.82 L674.00,226.38" fill="none" stroke="#1e7e7e" stroke-width="1.4" stroke-linejoin="round"/>
<text x="16.5" y="274.5" font-family="Liberation Serif" font-size="29" font-weight="bold" fill="#000">c</text>
<rect x="41.4" y="271.4" width="289.20000000000005" height="212.0" fill="none" stroke="#3a3a3a" stroke-width="1.3"/>
<line x1="41.40" y1="483.4" x2="41.40" y2="487.7" stroke="#3a3a3a" stroke-width="1.3"/>
<text x="41.40" y="499.60" font-size="12" text-anchor="middle" fill="#1e1e1e">696</text>
<line x1="77.55" y1="483.4" x2="77.55" y2="485.7" stroke="#3a3a3a" stroke-width="1.3"/>
<line x1="113.70" y1="483.4" x2="113.70" y2="487.7" stroke="#3a3a3a" stroke-width="1.3"/>
<text x="113.70" y="499.60" font-size="12" text-anchor="middle" fill="#1e1e1e">692</text>
<line x1="149.85" y1="483.4" x2="149.85" y2="485.7" stroke="#3a3a3a" stroke-width="1.3"/>
<line x1="186.00" y1="483.4" x2="186.00" y2="487.7" stroke="#3a3a3a" stroke-width="1.3"/>
<text x="186.00" y="499.60" font-size="12" text-anchor="middle" fill="#1e1e1e">688</text>
<line x1="222.15" y1="483.4" x2="222.15" y2="485.7" stroke="#3a3a3a" stroke-width="1.3"/>
<line x1="258.30" y1="483.4" x2="258.30" y2="487.7" stroke="#3a3a3a" stroke-width="1.3"/>
<text x="258.30" y="499.60" font-size="12" text-anchor="middle" fill="#1e1e1e">684</text>
<line x1="294.45" y1="483.4" x2="294.45" y2="485.7" stroke="#3a3a3a" stroke-width="1.3"/>
<line x1="330.60" y1="483.4" x2="330.60" y2="487.7" stroke="#3a3a3a" stroke-width="1.3"/>
<text x="330.60" y="499.60" font-size="12" text-anchor="middle" fill="#1e1e1e">680</text>
<text x="185.3" y="518.8" font-size="13" font-weight="bold" text-anchor="middle" fill="#1e1e1e">Binding energy (eV)</text>
<text transform="translate(21.0,374.5) rotate(-90)" font-size="13" font-weight="bold" text-anchor="middle" fill="#1e1e1e">Intensity (a.u.)</text>
<path d="M41.60,471.16 L42.10,472.80 L42.60,472.51 L43.10,470.35 L43.60,470.08 L44.10,470.14 L44.60,471.28 L45.10,471.00 L45.60,471.13 L46.10,469.02 L46.60,472.13 L47.10,471.17 L47.60,471.47 L48.10,470.59 L48.60,470.30 L49.10,471.36 L49.60,471.75 L50.10,470.59 L50.60,470.59 L51.10,471.22 L51.60,469.35 L52.10,468.65 L52.60,470.54 L53.10,469.40 L53.60,467.88 L54.10,468.99 L54.60,469.51 L55.10,468.63 L55.60,468.47 L56.10,470.47 L56.60,471.61 L57.10,470.32 L57.60,469.70 L58.10,471.01 L58.60,471.43 L59.10,470.50 L59.60,471.37 L60.10,471.86 L60.60,470.32 L61.10,469.57 L61.60,470.77 L62.10,471.15 L62.60,471.53 L63.10,469.05 L63.60,469.14 L64.10,468.85 L64.60,468.21 L65.10,470.28 L65.60,470.90 L66.10,470.03 L66.60,472.06 L67.10,471.88 L67.60,471.44 L68.10,471.25 L68.60,471.26 L69.10,469.20 L69.60,470.89 L70.10,470.76 L70.60,468.51 L71.10,470.22 L71.60,470.30 L72.10,471.03 L72.60,469.97 L73.10,470.23 L73.60,470.44 L74.10,469.47 L74.60,470.69 L75.10,470.38 L75.60,470.63 L76.10,470.00 L76.60,471.46 L77.10,471.10 L77.60,470.27 L78.10,471.14 L78.60,472.17 L79.10,472.09 L79.60,468.98 L80.10,470.84 L80.60,470.81 L81.10,469.84 L81.60,469.20 L82.10,470.92 L82.60,469.05 L83.10,470.66 L83.60,471.22 L84.10,468.43 L84.60,468.93 L85.10,468.47 L85.60,470.26 L86.10,472.15 L86.60,472.10 L87.10,468.25 L87.60,468.98 L88.10,470.87 L88.60,471.85 L89.10,470.48 L89.60,469.14 L90.10,469.91 L90.60,469.67 L91.10,469.17 L91.60,468.72 L92.10,469.71 L92.60,469.70 L93.10,469.11 L93.60,468.53 L94.10,467.43 L94.60,468.35 L95.10,469.96 L95.60,468.44 L96.10,467.31 L96.60,469.74 L97.10,469.78 L97.60,470.72 L98.10,468.65 L98.60,467.29 L99.10,466.64 L99.60,469.57 L100.10,470.67 L100.60,467.32 L101.10,466.96 L101.60,467.96 L102.10,466.80 L102.60,467.00 L103.10,467.12 L103.60,467.83 L104.10,468.61 L104.60,467.82 L105.10,468.17 L105.60,467.07 L106.10,466.94 L106.60,464.61 L107.10,465.23 L107.60,467.36 L108.10,466.61 L108.60,467.44 L109.10,467.77 L109.60,468.38 L110.10,468.00 L110.60,467.77 L111.10,466.43 L111.60,465.48 L112.10,465.29 L112.60,465.31 L113.10,464.74 L113.60,465.20 L114.10,465.77 L114.60,465.99 L115.10,465.01 L115.60,463.56 L116.10,465.05 L116.60,465.83 L117.10,466.53 L117.60,465.81 L118.10,464.30 L118.60,464.41 L119.10,466.74 L119.60,466.14 L120.10,466.85 L120.60,466.57 L121.10,463.76 L121.60,464.16 L122.10,464.32 L122.60,464.23 L123.10,463.95 L123.60,463.39 L124.10,462.70 L124.60,461.07 L125.10,461.67 L125.60,461.30 L126.10,461.64 L126.60,461.18 L127.10,461.87 L127.60,461.87 L128.10,461.08 L128.60,460.59 L129.10,459.90 L129.60,459.01 L130.10,458.73 L130.60,458.33 L131.10,458.71 L131.60,458.29 L132.10,458.00 L132.60,456.33 L133.10,457.32 L133.60,455.76 L134.10,455.10 L134.60,455.07 L135.10,454.50 L135.60,454.54 L136.10,453.23 L136.60,452.05 L137.10,452.00 L137.60,453.21 L138.10,451.54 L138.60,449.69 L139.10,449.52 L139.60,448.22 L140.10,449.61 L140.60,446.74 L141.10,447.11 L141.60,446.28 L142.10,443.85 L142.60,444.27 L143.10,444.17 L143.60,442.75 L144.10,441.53 L144.60,440.88 L145.10,439.19 L145.60,437.95 L146.10,436.51 L146.60,435.57 L147.10,433.35 L147.60,433.08 L148.10,430.78 L148.60,428.91 L149.10,428.98 L149.60,428.89 L150.10,426.71 L150.60,423.91 L151.10,422.93 L151.60,420.55 L152.10,419.02 L152.60,417.12 L153.10,413.60 L153.60,413.57 L154.10,411.17 L154.60,409.26 L155.10,406.68 L155.60,404.72 L156.10,403.81 L156.60,404.12 L157.10,403.14 L157.60,399.82 L158.10,398.38 L158.60,394.76 L159.10,391.06 L159.60,391.05 L160.10,389.66 L160.60,386.86 L161.10,385.53 L161.60,383.62 L162.10,379.75 L162.60,376.88 L163.10,376.19 L163.60,374.44 L164.10,372.57 L164.60,372.38 L165.10,371.09 L165.60,366.84 L166.10,365.76 L166.60,364.36 L167.10,362.27 L167.60,360.32 L168.10,356.90 L168.60,356.52 L169.10,356.43 L169.60,352.91 L170.10,349.16 L170.60,348.92 L171.10,348.26 L171.60,345.29 L172.10,342.77 L172.60,343.08 L173.10,338.87 L173.60,338.93 L174.10,337.03 L174.60,334.68 L175.10,336.25 L175.60,334.17 L176.10,331.27 L176.60,332.01 L177.10,329.76 L177.60,326.94 L178.10,327.76 L178.60,328.94 L179.10,329.05 L179.60,328.01 L180.10,327.46 L180.60,327.54 L181.10,326.95 L181.60,328.29 L182.10,327.31 L182.60,327.38 L183.10,327.48 L183.60,325.71 L184.10,326.76 L184.60,330.11 L185.10,329.48 L185.60,329.09 L186.10,330.27 L186.60,330.35 L187.10,331.78 L187.60,331.95 L188.10,333.49 L188.60,333.19 L189.10,337.37 L189.60,336.62 L190.10,336.33 L190.60,339.28 L191.10,341.12 L191.60,342.96 L192.10,343.35 L192.60,347.74 L193.10,352.95 L193.60,349.28 L194.10,351.66 L194.60,353.22 L195.10,354.99 L195.60,354.44 L196.10,357.18 L196.60,361.44 L197.10,363.71 L197.60,367.21 L198.10,366.73 L198.60,370.12 L199.10,375.17 L199.60,372.87 L200.10,373.91 L200.60,377.16 L201.10,379.76 L201.60,382.85 L202.10,383.95 L202.60,384.89 L203.10,388.73 L203.60,393.95 L204.10,393.69 L204.60,390.67 L205.10,394.86 L205.60,397.08 L206.10,400.62 L206.60,402.56 L207.10,406.75 L207.60,407.95 L208.10,409.32 L208.60,410.23 L209.10,411.70 L209.60,414.21 L210.10,417.11 L210.60,417.92 L211.10,418.78 L211.60,421.97 L212.10,422.66 L212.60,423.49 L213.10,424.21 L213.60,425.86 L214.10,426.82 L214.60,426.71 L215.10,432.06 L215.60,433.72 L216.10,434.40 L216.60,436.89 L217.10,437.80 L217.60,438.15 L218.10,436.68 L218.60,439.97 L219.10,442.83 L219.60,445.43 L220.10,446.95 L220.60,447.00 L221.10,444.84 L221.60,444.77 L222.10,448.42 L222.60,449.64 L223.10,451.19 L223.60,451.21 L224.10,451.79 L224.60,451.33 L225.10,453.63 L225.60,454.30 L226.10,455.91 L226.60,457.00 L227.10,457.43 L227.60,458.55 L228.10,459.32 L228.60,460.79 L229.10,461.28 L229.60,460.95 L230.10,461.94 L230.60,464.57 L231.10,464.19 L231.60,465.45 L232.10,465.52 L232.60,464.85 L233.10,465.08 L233.60,466.37 L234.10,467.17 L234.60,467.55 L235.10,466.21 L235.60,466.95 L236.10,468.32 L236.60,469.64 L237.10,466.82 L237.60,468.94 L238.10,469.04 L238.60,469.91 L239.10,469.61 L239.60,470.83 L240.10,472.28 L240.60,471.51 L241.10,471.52 L241.60,471.43 L242.10,470.69 L242.60,471.86 L243.10,471.38 L243.60,470.89 L244.10,471.73 L244.60,472.10 L245.10,473.09 L245.60,472.32 L246.10,472.06 L246.60,474.07 L247.10,474.09 L247.60,474.12 L248.10,473.24 L248.60,472.15 L249.10,471.62 L249.60,471.97 L250.10,473.19 L250.60,472.08 L251.10,470.32 L251.60,471.21 L252.10,470.29 L252.60,471.42 L253.10,470.11 L253.60,469.97 L254.10,471.50 L254.60,471.15 L255.10,469.75 L255.60,472.64 L256.10,474.06 L256.60,470.83 L257.10,473.28 L257.60,471.10 L258.10,470.76 L258.60,470.86 L259.10,470.08 L259.60,472.96 L260.10,472.34 L260.60,470.68 L261.10,470.59 L261.60,469.45 L262.10,470.93 L262.60,472.15 L263.10,469.46 L263.60,470.50 L264.10,471.83 L264.60,473.21 L265.10,473.34 L265.60,471.06 L266.10,470.56 L266.60,471.82 L267.10,471.14 L267.60,471.40 L268.10,473.41 L268.60,474.22 L269.10,472.44 L269.60,471.69 L270.10,471.90 L270.60,469.46 L271.10,470.94 L271.60,471.09 L272.10,474.87 L272.60,473.52 L273.10,472.22 L273.60,470.99 L274.10,468.77 L274.60,472.65 L275.10,474.13 L275.60,471.69 L276.10,472.93 L276.60,472.76 L277.10,470.48 L277.60,473.28 L278.10,474.24 L278.60,472.80 L279.10,472.35 L279.60,472.76 L280.10,470.38 L280.60,472.19 L281.10,473.31 L281.60,471.16 L282.10,473.12 L282.60,471.40 L283.10,469.34 L283.60,471.29 L284.10,471.08 L284.60,472.16 L285.10,471.18 L285.60,473.26 L286.10,471.81 L286.60,472.52 L287.10,471.64 L287.60,472.19 L288.10,474.08 L288.60,473.02 L289.10,471.66 L289.60,471.02 L290.10,473.99 L290.60,473.81 L291.10,472.41 L291.60,472.52 L292.10,470.94 L292.60,470.65 L293.10,471.28 L293.60,472.98 L294.10,472.95 L294.60,471.94 L295.10,473.73 L295.60,474.07 L296.10,473.51 L296.60,474.15 L297.10,472.62 L297.60,472.65 L298.10,473.39 L298.60,473.12 L299.10,473.53 L299.60,471.71 L300.10,474.23 L300.60,472.11 L301.10,471.95 L301.60,471.03 L302.10,473.70 L302.60,475.22 L303.10,475.08 L303.60,473.95 L304.10,470.70 L304.60,471.19 L305.10,471.75 L305.60,471.81 L306.10,474.36 L306.60,473.59 L307.10,473.16 L307.60,473.41 L308.10,471.50 L308.60,471.13 L309.10,471.62 L309.60,473.60 L310.10,473.89 L310.60,474.36 L311.10,474.41 L311.60,471.26 L312.10,471.90 L312.60,472.73 L313.10,471.02 L313.60,472.24 L314.10,474.82 L314.60,475.45 L315.10,475.12 L315.60,473.51 L316.10,473.23 L316.60,474.61 L317.10,473.10 L317.60,474.02 L318.10,475.19 L318.60,472.91 L319.10,472.21 L319.60,473.23 L320.10,474.31 L320.60,474.24 L321.10,473.85 L321.60,473.66 L322.10,470.79 L322.60,471.55 L323.10,472.98 L323.60,471.54 L324.10,470.61 L324.60,470.78 L325.10,471.51 L325.60,472.46 L326.10,471.83 L326.60,473.96 L327.10,476.01 L327.60,474.15 L328.10,475.41 L328.60,473.91 L329.10,471.71 L329.60,472.67" fill="none" stroke="#6e6e6e" stroke-width="0.9"/>
<path d="M41.60,472.50 L42.10,472.50 L42.60,472.50 L43.10,472.50 L43.60,472.51 L44.10,472.51 L44.60,472.51 L45.10,472.51 L45.60,472.51 L46.10,472.51 L46.60,472.51 L47.10,472.51 L47.60,472.52 L48.10,472.52 L48.60,472.52 L49.10,472.52 L49.60,472.52 L50.10,472.52 L50.60,472.52 L51.10,472.52 L51.60,472.53 L52.10,472.53 L52.60,472.53 L53.10,472.53 L53.60,472.53 L54.10,472.53 L54.60,472.53 L55.10,472.53 L55.60,472.54 L56.10,472.54 L56.60,472.54 L57.10,472.54 L57.60,472.54 L58.10,472.54 L58.60,472.54 L59.10,472.54 L59.60,472.55 L60.10,472.55 L60.60,472.55 L61.10,472.55 L61.60,472.55 L62.10,472.55 L62.60,472.55 L63.10,472.56 L63.60,472.56 L64.10,472.56 L64.60,472.56 L65.10,472.56 L65.60,472.56 L66.10,472.56 L66.60,472.56 L67.10,472.57 L67.60,472.57 L68.10,472.57 L68.60,472.57 L69.10,472.57 L69.60,472.57 L70.10,472.57 L70.60,472.57 L71.10,472.58 L71.60,472.58 L72.10,472.58 L72.60,472.58 L73.10,472.58 L73.60,472.58 L74.10,472.58 L74.60,472.58 L75.10,472.59 L75.60,472.59 L76.10,472.59 L76.60,472.59 L77.10,472.59 L77.60,472.59 L78.10,472.59 L78.60,472.59 L79.10,472.60 L79.60,472.60 L80.10,472.60 L80.60,472.60 L81.10,472.60 L81.60,472.60 L82.10,472.60 L82.60,472.60 L83.10,472.61 L83.60,472.61 L84.10,472.61 L84.60,472.61 L85.10,472.61 L85.60,472.61 L86.10,472.61 L86.60,472.61 L87.10,472.62 L87.60,472.62 L88.10,472.62 L88.60,472.62 L89.10,472.62 L89.60,472.62 L90.10,472.62 L90.60,472.63 L91.10,472.63 L91.60,472.63 L92.10,472.63 L92.60,472.63 L93.10,472.63 L93.60,472.63 L94.10,472.63 L94.60,472.64 L95.10,472.64 L95.60,472.64 L96.10,472.64 L96.60,472.64 L97.10,472.64 L97.60,472.64 L98.10,472.64 L98.60,472.65 L99.10,472.65 L99.60,472.65 L100.10,472.65 L100.60,472.65 L101.10,472.65 L101.60,472.65 L102.10,472.65 L102.60,472.66 L103.10,472.66 L103.60,472.66 L104.10,472.66 L104.60,472.66 L105.10,472.66 L105.60,472.66 L106.10,472.66 L106.60,472.67 L107.10,472.67 L107.60,472.67 L108.10,472.67 L108.60,472.67 L109.10,472.67 L109.60,472.67 L110.10,472.67 L110.60,472.68 L111.10,472.68 L111.60,472.68 L112.10,472.68 L112.60,472.68 L113.10,472.68 L113.60,472.68 L114.10,472.68 L114.60,472.69 L115.10,472.69 L115.60,472.69 L116.10,472.69 L116.60,472.69 L117.10,472.69 L117.60,472.69 L118.10,472.70 L118.60,472.70 L119.10,472.70 L119.60,472.70 L120.10,472.70 L120.60,472.71 L121.10,472.71 L121.60,472.72 L122.10,472.72 L122.60,472.73 L123.10,472.74 L123.60,472.74 L124.10,472.75 L124.60,472.75 L125.10,472.76 L125.60,472.77 L126.10,472.77 L126.60,472.78 L127.10,472.78 L127.60,472.79 L128.10,472.79 L128.60,472.80 L129.10,472.81 L129.60,472.81 L130.10,472.82 L130.60,472.82 L131.10,472.83 L131.60,472.84 L132.10,472.84 L132.60,472.85 L133.10,472.85 L133.60,472.86 L134.10,472.86 L134.60,472.87 L135.10,472.88 L135.60,472.88 L136.10,472.89 L136.60,472.89 L137.10,472.90 L137.60,472.91 L138.10,472.91 L138.60,472.92 L139.10,472.92 L139.60,472.93 L140.10,472.93 L140.60,472.94 L141.10,472.95 L141.60,472.95 L142.10,472.96 L142.60,472.96 L143.10,472.97 L143.60,472.98 L144.10,472.98 L144.60,472.99 L145.10,472.99 L145.60,473.00 L146.10,473.00 L146.60,473.01 L147.10,473.02 L147.60,473.02 L148.10,473.03 L148.60,473.03 L149.10,473.04 L149.60,473.05 L150.10,473.05 L150.60,473.06 L151.10,473.06 L151.60,473.07 L152.10,473.07 L152.60,473.08 L153.10,473.09 L153.60,473.09 L154.10,473.10 L154.60,473.10 L155.10,473.11 L155.60,473.12 L156.10,473.12 L156.60,473.13 L157.10,473.13 L157.60,473.14 L158.10,473.14 L158.60,473.15 L159.10,473.16 L159.60,473.16 L160.10,473.17 L160.60,473.17 L161.10,473.18 L161.60,473.19 L162.10,473.19 L162.60,473.20 L163.10,473.20 L163.60,473.21 L164.10,473.21 L164.60,473.22 L165.10,473.23 L165.60,473.23 L166.10,473.24 L166.60,473.24 L167.10,473.25 L167.60,473.26 L168.10,473.26 L168.60,473.27 L169.10,473.27 L169.60,473.28 L170.10,473.28 L170.60,473.29 L171.10,473.30 L171.60,473.30 L172.10,473.31 L172.60,473.31 L173.10,473.32 L173.60,473.33 L174.10,473.33 L174.60,473.34 L175.10,473.34 L175.60,473.35 L176.10,473.35 L176.60,473.36 L177.10,473.37 L177.60,473.37 L178.10,473.38 L178.60,473.38 L179.10,473.39 L179.60,473.40 L180.10,473.40 L180.60,473.41 L181.10,473.41 L181.60,473.42 L182.10,473.43 L182.60,473.43 L183.10,473.44 L183.60,473.45 L184.10,473.45 L184.60,473.46 L185.10,473.47 L185.60,473.47 L186.10,473.48 L186.60,473.49 L187.10,473.49 L187.60,473.50 L188.10,473.51 L188.60,473.51 L189.10,473.52 L189.60,473.53 L190.10,473.53 L190.60,473.54 L191.10,473.55 L191.60,473.55 L192.10,473.56 L192.60,473.57 L193.10,473.57 L193.60,473.58 L194.10,473.59 L194.60,473.59 L195.10,473.60 L195.60,473.61 L196.10,473.61 L196.60,473.62 L197.10,473.63 L197.60,473.63 L198.10,473.64 L198.60,473.65 L199.10,473.65 L199.60,473.66 L200.10,473.67 L200.60,473.67 L201.10,473.68 L201.60,473.69 L202.10,473.69 L202.60,473.70 L203.10,473.71 L203.60,473.71 L204.10,473.72 L204.60,473.73 L205.10,473.73 L205.60,473.74 L206.10,473.75 L206.60,473.75 L207.10,473.76 L207.60,473.77 L208.10,473.77 L208.60,473.78 L209.10,473.79 L209.60,473.79 L210.10,473.80 L210.60,473.81 L211.10,473.81 L211.60,473.82 L212.10,473.83 L212.60,473.83 L213.10,473.84 L213.60,473.85 L214.10,473.85 L214.60,473.86 L215.10,473.87 L215.60,473.87 L216.10,473.88 L216.60,473.89 L217.10,473.89 L217.60,473.90 L218.10,473.91 L218.60,473.91 L219.10,473.92 L219.60,473.93 L220.10,473.93 L220.60,473.94 L221.10,473.95 L221.60,473.95 L222.10,473.96 L222.60,473.97 L223.10,473.97 L223.60,473.98 L224.10,473.99 L224.60,473.99 L225.10,474.00 L225.60,474.01 L226.10,474.01 L226.60,474.02 L227.10,474.03 L227.60,474.03 L228.10,474.04 L228.60,474.05 L229.10,474.05 L229.60,474.06 L230.10,474.07 L230.60,474.07 L231.10,474.08 L231.60,474.09 L232.10,474.09 L232.60,474.10 L233.10,474.11 L233.60,474.11 L234.10,474.12 L234.60,474.13 L235.10,474.13 L235.60,474.14 L236.10,474.15 L236.60,474.15 L237.10,474.16 L237.60,474.17 L238.10,474.17 L238.60,474.18 L239.10,474.19 L239.60,474.19 L240.10,474.20 L240.60,474.20 L241.10,474.21 L241.60,474.21 L242.10,474.21 L242.60,474.21 L243.10,474.22 L243.60,474.22 L244.10,474.22 L244.60,474.23 L245.10,474.23 L245.60,474.23 L246.10,474.23 L246.60,474.24 L247.10,474.24 L247.60,474.24 L248.10,474.25 L248.60,474.25 L249.10,474.25 L249.60,474.25 L250.10,474.26 L250.60,474.26 L251.10,474.26 L251.60,474.26 L252.10,474.27 L252.60,474.27 L253.10,474.27 L253.60,474.28 L254.10,474.28 L254.60,474.28 L255.10,474.28 L255.60,474.29 L256.10,474.29 L256.60,474.29 L257.10,474.30 L257.60,474.30 L258.10,474.30 L258.60,474.30 L259.10,474.31 L259.60,474.31 L260.10,474.31 L260.60,474.31 L261.10,474.32 L261.60,474.32 L262.10,474.32 L262.60,474.33 L263.10,474.33 L263.60,474.33 L264.10,474.33 L264.60,474.34 L265.10,474.34 L265.60,474.34 L266.10,474.34 L266.60,474.35 L267.10,474.35 L267.60,474.35 L268.10,474.36 L268.60,474.36 L269.10,474.36 L269.60,474.36 L270.10,474.37 L270.60,474.37 L271.10,474.37 L271.60,474.38 L272.10,474.38 L272.60,474.38 L273.10,474.38 L273.60,474.39 L274.10,474.39 L274.60,474.39 L275.10,474.39 L275.60,474.40 L276.10,474.40 L276.60,474.40 L277.10,474.41 L277.60,474.41 L278.10,474.41 L278.60,474.41 L279.10,474.42 L279.60,474.42 L280.10,474.42 L280.60,474.43 L281.10,474.43 L281.60,474.43 L282.10,474.43 L282.60,474.44 L283.10,474.44 L283.60,474.44 L284.10,474.44 L284.60,474.45 L285.10,474.45 L285.60,474.45 L286.10,474.46 L286.60,474.46 L287.10,474.46 L287.60,474.46 L288.10,474.47 L288.60,474.47 L289.10,474.47 L289.60,474.48 L290.10,474.48 L290.60,474.48 L291.10,474.48 L291.60,474.49 L292.10,474.49 L292.60,474.49 L293.10,474.50 L293.60,474.50 L294.10,474.50 L294.60,474.50 L295.10,474.51 L295.60,474.51 L296.10,474.51 L296.60,474.51 L297.10,474.52 L297.60,474.52 L298.10,474.52 L298.60,474.53 L299.10,474.53 L299.60,474.53 L300.10,474.53 L300.60,474.54 L301.10,474.54 L301.60,474.54 L302.10,474.55 L302.60,474.55 L303.10,474.55 L303.60,474.55 L304.10,474.56 L304.60,474.56 L305.10,474.56 L305.60,474.56 L306.10,474.57 L306.60,474.57 L307.10,474.57 L307.60,474.58 L308.10,474.58 L308.60,474.58 L309.10,474.58 L309.60,474.59 L310.10,474.59 L310.60,474.59 L311.10,474.59 L311.60,474.60 L312.10,474.60 L312.60,474.60 L313.10,474.61 L313.60,474.61 L314.10,474.61 L314.60,474.61 L315.10,474.62 L315.60,474.62 L316.10,474.62 L316.60,474.63 L317.10,474.63 L317.60,474.63 L318.10,474.63 L318.60,474.64 L319.10,474.64 L319.60,474.64 L320.10,474.64 L320.60,474.65 L321.10,474.65 L321.60,474.65 L322.10,474.66 L322.60,474.66 L323.10,474.66 L323.60,474.66 L324.10,474.67 L324.60,474.67 L325.10,474.67 L325.60,474.68 L326.10,474.68 L326.60,474.68 L327.10,474.68 L327.60,474.69 L328.10,474.69 L328.60,474.69 L329.10,474.69 L329.60,474.70" fill="none" stroke="#9a3cc8" stroke-width="1.6"/>
<path d="M41.60,470.74 L42.10,470.73 L42.60,470.73 L43.10,470.72 L43.60,470.72 L44.10,470.71 L44.60,470.70 L45.10,470.70 L45.60,470.69 L46.10,470.69 L46.60,470.68 L47.10,470.68 L47.60,470.67 L48.10,470.66 L48.60,470.66 L49.10,470.65 L49.60,470.65 L50.10,470.64 L50.60,470.63 L51.10,470.63 L51.60,470.62 L52.10,470.61 L52.60,470.61 L53.10,470.60 L53.60,470.59 L54.10,470.59 L54.60,470.58 L55.10,470.57 L55.60,470.56 L56.10,470.56 L56.60,470.55 L57.10,470.54 L57.60,470.53 L58.10,470.53 L58.60,470.52 L59.10,470.51 L59.60,470.50 L60.10,470.49 L60.60,470.49 L61.10,470.48 L61.60,470.47 L62.10,470.46 L62.60,470.45 L63.10,470.44 L63.60,470.43 L64.10,470.43 L64.60,470.42 L65.10,470.41 L65.60,470.40 L66.10,470.39 L66.60,470.38 L67.10,470.37 L67.60,470.36 L68.10,470.35 L68.60,470.34 L69.10,470.33 L69.60,470.32 L70.10,470.31 L70.60,470.30 L71.10,470.28 L71.60,470.27 L72.10,470.26 L72.60,470.25 L73.10,470.24 L73.60,470.23 L74.10,470.22 L74.60,470.20 L75.10,470.19 L75.60,470.18 L76.10,470.17 L76.60,470.15 L77.10,470.14 L77.60,470.13 L78.10,470.11 L78.60,470.10 L79.10,470.09 L79.60,470.07 L80.10,470.06 L80.60,470.04 L81.10,470.03 L81.60,470.01 L82.10,470.00 L82.60,469.98 L83.10,469.97 L83.60,469.95 L84.10,469.93 L84.60,469.92 L85.10,469.90 L85.60,469.88 L86.10,469.87 L86.60,469.85 L87.10,469.83 L87.60,469.81 L88.10,469.79 L88.60,469.78 L89.10,469.76 L89.60,469.74 L90.10,469.72 L90.60,469.70 L91.10,469.67 L91.60,469.65 L92.10,469.63 L92.60,469.61 L93.10,469.59 L93.60,469.56 L94.10,469.54 L94.60,469.52 L95.10,469.49 L95.60,469.47 L96.10,469.44 L96.60,469.41 L97.10,469.39 L97.60,469.36 L98.10,469.33 L98.60,469.30 L99.10,469.27 L99.60,469.24 L100.10,469.21 L100.60,469.18 L101.10,469.14 L101.60,469.11 L102.10,469.07 L102.60,469.04 L103.10,469.00 L103.60,468.96 L104.10,468.92 L104.60,468.87 L105.10,468.83 L105.60,468.79 L106.10,468.74 L106.60,468.69 L107.10,468.64 L107.60,468.59 L108.10,468.53 L108.60,468.47 L109.10,468.41 L109.60,468.35 L110.10,468.29 L110.60,468.22 L111.10,468.15 L111.60,468.08 L112.10,468.00 L112.60,467.92 L113.10,467.83 L113.60,467.74 L114.10,467.65 L114.60,467.55 L115.10,467.45 L115.60,467.35 L116.10,467.23 L116.60,467.12 L117.10,466.99 L117.60,466.86 L118.10,466.73 L118.60,466.58 L119.10,466.43 L119.60,466.28 L120.10,466.11 L120.60,465.94 L121.10,465.75 L121.60,465.56 L122.10,465.36 L122.60,465.15 L123.10,464.93 L123.60,464.69 L124.10,464.45 L124.60,464.19 L125.10,463.92 L125.60,463.64 L126.10,463.34 L126.60,463.03 L127.10,462.71 L127.60,462.36 L128.10,462.01 L128.60,461.63 L129.10,461.24 L129.60,460.83 L130.10,460.40 L130.60,459.95 L131.10,459.48 L131.60,458.99 L132.10,458.48 L132.60,457.94 L133.10,457.39 L133.60,456.81 L134.10,456.20 L134.60,455.57 L135.10,454.91 L135.60,454.23 L136.10,453.52 L136.60,452.78 L137.10,452.01 L137.60,451.21 L138.10,450.38 L138.60,449.53 L139.10,448.64 L139.60,447.72 L140.10,446.76 L140.60,445.78 L141.10,444.76 L141.60,443.70 L142.10,442.61 L142.60,441.49 L143.10,440.33 L143.60,439.14 L144.10,437.91 L144.60,436.64 L145.10,435.34 L145.60,434.01 L146.10,432.63 L146.60,431.22 L147.10,429.78 L147.60,428.29 L148.10,426.78 L148.60,425.22 L149.10,423.63 L149.60,422.01 L150.10,420.35 L150.60,418.68 L151.10,416.96 L151.60,415.22 L152.10,413.44 L152.60,411.64 L153.10,409.80 L153.60,407.93 L154.10,406.04 L154.60,404.12 L155.10,402.18 L155.60,400.21 L156.10,398.22 L156.60,396.22 L157.10,394.19 L157.60,392.14 L158.10,390.08 L158.60,388.01 L159.10,385.93 L159.60,383.83 L160.10,381.74 L160.60,379.63 L161.10,377.53 L161.60,375.42 L162.10,373.32 L162.60,371.22 L163.10,369.13 L163.60,367.06 L164.10,364.99 L164.60,362.95 L165.10,360.92 L165.60,358.91 L166.10,356.94 L166.60,354.99 L167.10,353.07 L167.60,351.19 L168.10,349.34 L168.60,347.54 L169.10,345.78 L169.60,344.08 L170.10,342.42 L170.60,340.82 L171.10,339.27 L171.60,337.79 L172.10,336.37 L172.60,335.02 L173.10,333.74 L173.60,332.53 L174.10,331.40 L174.60,330.35 L175.10,329.38 L175.60,328.50 L176.10,327.70 L176.60,326.99 L177.10,326.36 L177.60,325.83 L178.10,325.40 L178.60,325.06 L179.10,324.81 L179.60,324.66 L180.10,324.60 L180.60,324.65 L181.10,324.79 L181.60,325.02 L182.10,325.35 L182.60,325.78 L183.10,326.30 L183.60,326.91 L184.10,327.61 L184.60,328.40 L185.10,329.28 L185.60,330.24 L186.10,331.29 L186.60,332.41 L187.10,333.62 L187.60,334.90 L188.10,336.24 L188.60,337.66 L189.10,339.15 L189.60,340.69 L190.10,342.30 L190.60,343.96 L191.10,345.68 L191.60,347.44 L192.10,349.25 L192.60,351.11 L193.10,353.00 L193.60,354.93 L194.10,356.89 L194.60,358.89 L195.10,360.91 L195.60,362.95 L196.10,365.02 L196.60,367.10 L197.10,369.20 L197.60,371.31 L198.10,373.43 L198.60,375.56 L199.10,377.69 L199.60,379.82 L200.10,381.96 L200.60,384.08 L201.10,386.21 L201.60,388.32 L202.10,390.42 L202.60,392.52 L203.10,394.59 L203.60,396.65 L204.10,398.70 L204.60,400.72 L205.10,402.72 L205.60,404.70 L206.10,406.66 L206.60,408.59 L207.10,410.49 L207.60,412.37 L208.10,414.21 L208.60,416.03 L209.10,417.81 L209.60,419.56 L210.10,421.28 L210.60,422.95 L211.10,424.60 L211.60,426.20 L212.10,427.78 L212.60,429.31 L213.10,430.81 L213.60,432.28 L214.10,433.71 L214.60,435.10 L215.10,436.46 L215.60,437.78 L216.10,439.06 L216.60,440.31 L217.10,441.52 L217.60,442.70 L218.10,443.84 L218.60,444.94 L219.10,446.02 L219.60,447.05 L220.10,448.06 L220.60,449.03 L221.10,449.97 L221.60,450.87 L222.10,451.75 L222.60,452.59 L223.10,453.40 L223.60,454.19 L224.10,454.94 L224.60,455.67 L225.10,456.37 L225.60,457.04 L226.10,457.69 L226.60,458.31 L227.10,458.90 L227.60,459.47 L228.10,460.02 L228.60,460.55 L229.10,461.05 L229.60,461.53 L230.10,461.99 L230.60,462.43 L231.10,462.86 L231.60,463.26 L232.10,463.65 L232.60,464.01 L233.10,464.37 L233.60,464.70 L234.10,465.02 L234.60,465.33 L235.10,465.62 L235.60,465.90 L236.10,466.17 L236.60,466.42 L237.10,466.67 L237.60,466.90 L238.10,467.12 L238.60,467.33 L239.10,467.53 L239.60,467.72 L240.10,467.90 L240.60,468.07 L241.10,468.24 L241.60,468.39 L242.10,468.54 L242.60,468.69 L243.10,468.82 L243.60,468.95 L244.10,469.08 L244.60,469.19 L245.10,469.31 L245.60,469.42 L246.10,469.52 L246.60,469.62 L247.10,469.71 L247.60,469.80 L248.10,469.89 L248.60,469.97 L249.10,470.05 L249.60,470.13 L250.10,470.20 L250.60,470.27 L251.10,470.34 L251.60,470.40 L252.10,470.47 L252.60,470.53 L253.10,470.58 L253.60,470.64 L254.10,470.69 L254.60,470.75 L255.10,470.80 L255.60,470.84 L256.10,470.89 L256.60,470.94 L257.10,470.98 L257.60,471.02 L258.10,471.07 L258.60,471.11 L259.10,471.15 L259.60,471.18 L260.10,471.22 L260.60,471.26 L261.10,471.29 L261.60,471.33 L262.10,471.36 L262.60,471.40 L263.10,471.43 L263.60,471.46 L264.10,471.49 L264.60,471.52 L265.10,471.55 L265.60,471.58 L266.10,471.61 L266.60,471.64 L267.10,471.66 L267.60,471.69 L268.10,471.72 L268.60,471.74 L269.10,471.77 L269.60,471.79 L270.10,471.82 L270.60,471.84 L271.10,471.87 L271.60,471.89 L272.10,471.91 L272.60,471.94 L273.10,471.96 L273.60,471.98 L274.10,472.00 L274.60,472.03 L275.10,472.05 L275.60,472.07 L276.10,472.09 L276.60,472.11 L277.10,472.13 L277.60,472.15 L278.10,472.17 L278.60,472.19 L279.10,472.21 L279.60,472.23 L280.10,472.25 L280.60,472.27 L281.10,472.28 L281.60,472.30 L282.10,472.32 L282.60,472.34 L283.10,472.36 L283.60,472.37 L284.10,472.39 L284.60,472.41 L285.10,472.42 L285.60,472.44 L286.10,472.46 L286.60,472.47 L287.10,472.49 L287.60,472.51 L288.10,472.52 L288.60,472.54 L289.10,472.55 L289.60,472.57 L290.10,472.58 L290.60,472.60 L291.10,472.61 L291.60,472.63 L292.10,472.64 L292.60,472.66 L293.10,472.67 L293.60,472.68 L294.10,472.70 L294.60,472.71 L295.10,472.73 L295.60,472.74 L296.10,472.75 L296.60,472.77 L297.10,472.78 L297.60,472.79 L298.10,472.81 L298.60,472.82 L299.10,472.83 L299.60,472.84 L300.10,472.86 L300.60,472.87 L301.10,472.88 L301.60,472.89 L302.10,472.91 L302.60,472.92 L303.10,472.93 L303.60,472.94 L304.10,472.95 L304.60,472.97 L305.10,472.98 L305.60,472.99 L306.10,473.00 L306.60,473.01 L307.10,473.02 L307.60,473.03 L308.10,473.04 L308.60,473.06 L309.10,473.07 L309.60,473.08 L310.10,473.09 L310.60,473.10 L311.10,473.11 L311.60,473.12 L312.10,473.13 L312.60,473.14 L313.10,473.15 L313.60,473.16 L314.10,473.17 L314.60,473.18 L315.10,473.19 L315.60,473.20 L316.10,473.21 L316.60,473.22 L317.10,473.23 L317.60,473.24 L318.10,473.25 L318.60,473.26 L319.10,473.27 L319.60,473.28 L320.10,473.29 L320.60,473.29 L321.10,473.30 L321.60,473.31 L322.10,473.32 L322.60,473.33 L323.10,473.34 L323.60,473.35 L324.10,473.36 L324.60,473.37 L325.10,473.37 L325.60,473.38 L326.10,473.39 L326.60,473.40 L327.10,473.41 L327.60,473.42 L328.10,473.43 L328.60,473.43 L329.10,473.44 L329.60,473.45" fill="none" stroke="#1e8278" stroke-width="1.45"/>
<text x="173.8" y="311" font-size="17" font-weight="bold" fill="#1a10c8">F<tspan font-size="9" dy="6">1s</tspan></text>
<text x="361.6" y="279.8" font-family="Liberation Serif" font-size="29" font-weight="bold" fill="#000">d</text>
<rect x="385.2" y="270.4" width="288.8" height="212.40000000000003" fill="none" stroke="#3a3a3a" stroke-width="1.3"/>
<line x1="385.20" y1="482.8" x2="385.20" y2="487.1" stroke="#3a3a3a" stroke-width="1.3"/>
<text x="385.20" y="499.00" font-size="12" text-anchor="middle" fill="#1e1e1e">296</text>
<line x1="417.29" y1="482.8" x2="417.29" y2="485.1" stroke="#3a3a3a" stroke-width="1.3"/>
<line x1="449.38" y1="482.8" x2="449.38" y2="487.1" stroke="#3a3a3a" stroke-width="1.3"/>
<text x="449.38" y="499.00" font-size="12" text-anchor="middle" fill="#1e1e1e">292</text>
<line x1="481.47" y1="482.8" x2="481.47" y2="485.1" stroke="#3a3a3a" stroke-width="1.3"/>
<line x1="513.56" y1="482.8" x2="513.56" y2="487.1" stroke="#3a3a3a" stroke-width="1.3"/>
<text x="513.56" y="499.00" font-size="12" text-anchor="middle" fill="#1e1e1e">288</text>
<line x1="545.64" y1="482.8" x2="545.64" y2="485.1" stroke="#3a3a3a" stroke-width="1.3"/>
<line x1="577.73" y1="482.8" x2="577.73" y2="487.1" stroke="#3a3a3a" stroke-width="1.3"/>
<text x="577.73" y="499.00" font-size="12" text-anchor="middle" fill="#1e1e1e">284</text>
<line x1="609.82" y1="482.8" x2="609.82" y2="485.1" stroke="#3a3a3a" stroke-width="1.3"/>
<line x1="641.91" y1="482.8" x2="641.91" y2="487.1" stroke="#3a3a3a" stroke-width="1.3"/>
<text x="641.91" y="499.00" font-size="12" text-anchor="middle" fill="#1e1e1e">280</text>
<line x1="674.00" y1="482.8" x2="674.00" y2="485.1" stroke="#3a3a3a" stroke-width="1.3"/>
<text x="541.1" y="516.0" font-size="13" font-weight="bold" text-anchor="middle" fill="#1e1e1e">Binding energy (eV)</text>
<text transform="translate(365.0,384.0) rotate(-90)" font-size="13" font-weight="bold" text-anchor="middle" fill="#1e1e1e">Intensity (a.u.)</text>
<text x="423.0" y="418.6" font-size="17" font-weight="bold" fill="#1a10c8">C-F</text>
<path d="M385.60,459.36 L386.10,458.61 L386.60,460.66 L387.10,465.32 L387.60,468.20 L388.10,464.94 L388.60,460.34 L389.10,460.47 L389.60,463.64 L390.10,459.17 L390.60,451.60 L391.10,455.79 L391.60,462.09 L392.10,464.20 L392.60,463.09 L393.10,458.87 L393.60,460.04 L394.10,459.42 L394.60,459.84 L395.10,460.29 L395.60,460.74 L396.10,462.52 L396.60,461.87 L397.10,461.16 L397.60,462.90 L398.10,462.77 L398.60,459.41 L399.10,459.98 L399.60,459.99 L400.10,460.39 L400.60,459.92 L401.10,461.85 L401.60,462.63 L402.10,461.93 L402.60,464.55 L403.10,468.80 L403.60,464.44 L404.10,461.16 L404.60,463.28 L405.10,463.38 L405.60,466.42 L406.10,465.35 L406.60,461.56 L407.10,463.18 L407.60,462.73 L408.10,461.25 L408.60,458.00 L409.10,459.48 L409.60,462.55 L410.10,461.14 L410.60,457.40 L411.10,460.42 L411.60,463.83 L412.10,461.98 L412.60,461.78 L413.10,462.50 L413.60,461.36 L414.10,456.20 L414.60,462.55 L415.10,465.47 L415.60,464.42 L416.10,458.85 L416.60,453.40 L417.10,457.68 L417.60,462.59 L418.10,460.19 L418.60,459.58 L419.10,463.64 L419.60,468.80 L420.10,462.58 L420.60,456.94 L421.10,457.08 L421.60,455.84 L422.10,454.41 L422.60,454.99 L423.10,451.45 L423.60,449.53 L424.10,450.75 L424.60,451.60 L425.10,450.88 L425.60,448.32 L426.10,449.40 L426.60,448.52 L427.10,445.07 L427.60,444.05 L428.10,445.35 L428.60,442.87 L429.10,442.68 L429.60,442.66 L430.10,441.92 L430.60,442.50 L431.10,442.61 L431.60,439.00 L432.10,435.53 L432.60,434.34 L433.10,436.09 L433.60,436.50 L434.10,434.00 L434.60,431.00 L435.10,432.61 L435.60,433.19 L436.10,433.39 L436.60,434.01 L437.10,433.49 L437.60,436.94 L438.10,439.60 L438.60,436.80 L439.10,431.93 L439.60,431.60 L440.10,433.32 L440.60,433.09 L441.10,435.12 L441.60,434.66 L442.10,433.57 L442.60,433.47 L443.10,433.94 L443.60,436.42 L444.10,438.37 L444.60,437.78 L445.10,432.22 L445.60,423.20 L446.10,433.35 L446.60,435.20 L447.10,438.06 L447.60,439.89 L448.10,440.92 L448.60,443.48 L449.10,445.02 L449.60,442.90 L450.10,440.30 L450.60,444.81 L451.10,449.38 L451.60,450.66 L452.10,451.26 L452.60,452.58 L453.10,454.70 L453.60,454.31 L454.10,454.20 L454.60,454.85 L455.10,454.04 L455.60,455.36 L456.10,457.74 L456.60,459.13 L457.10,460.26 L457.60,458.78 L458.10,458.38 L458.60,462.26 L459.10,462.31 L459.60,460.91 L460.10,462.98 L460.60,462.07 L461.10,460.31 L461.60,461.63 L462.10,463.32 L462.60,465.23 L463.10,463.74 L463.60,463.73 L464.10,464.17 L464.60,464.08 L465.10,464.08 L465.60,465.82 L466.10,467.36 L466.60,466.69 L467.10,464.64 L467.60,464.37 L468.10,465.62 L468.60,465.24 L469.10,464.62 L469.60,464.90 L470.10,468.65 L470.60,468.15 L471.10,466.16 L471.60,467.97 L472.10,465.71 L472.60,463.20 L473.10,464.07 L473.60,466.17 L474.10,467.19 L474.60,466.54 L475.10,466.06 L475.60,466.96 L476.10,469.53 L476.60,469.48 L477.10,465.80 L477.60,465.52 L478.10,468.29 L478.60,465.04 L479.10,464.02 L479.60,464.96 L480.10,465.81 L480.60,466.18 L481.10,464.73 L481.60,463.08 L482.10,463.91 L482.60,464.57 L483.10,465.43 L483.60,462.65 L484.10,459.75 L484.60,460.25 L485.10,462.42 L485.60,459.69 L486.10,456.88 L486.60,458.01 L487.10,459.53 L487.60,459.89 L488.10,457.65 L488.60,458.46 L489.10,458.16 L489.60,455.82 L490.10,456.16 L490.60,454.44 L491.10,449.50 L491.60,453.22 L492.10,454.89 L492.60,454.57 L493.10,452.56 L493.60,451.06 L494.10,449.79 L494.60,450.00 L495.10,451.02 L495.60,453.03 L496.10,450.29 L496.60,445.86 L497.10,440.30 L497.60,444.48 L498.10,447.00 L498.60,443.43 L499.10,444.97 L499.60,445.13 L500.10,440.96 L500.60,441.83 L501.10,444.62 L501.60,446.97 L502.10,451.80 L502.60,446.11 L503.10,441.91 L503.60,443.31 L504.10,442.98 L504.60,441.41 L505.10,440.64 L505.60,441.92 L506.10,443.70 L506.60,440.41 L507.10,437.20 L507.60,439.28 L508.10,439.21 L508.60,440.24 L509.10,442.37 L509.60,441.82 L510.10,439.80 L510.60,439.22 L511.10,441.38 L511.60,441.73 L512.10,441.67 L512.60,442.18 L513.10,443.31 L513.60,444.16 L514.10,446.68 L514.60,448.30 L515.10,447.34 L515.60,445.53 L516.10,443.81 L516.60,444.07 L517.10,444.77 L517.60,444.35 L518.10,445.65 L518.60,446.07 L519.10,442.86 L519.60,441.85 L520.10,447.06 L520.60,449.20 L521.10,446.65 L521.60,441.61 L522.10,439.70 L522.60,442.89 L523.10,443.22 L523.60,442.31 L524.10,442.38 L524.60,441.67 L525.10,440.41 L525.60,439.72 L526.10,441.71 L526.60,440.31 L527.10,439.09 L527.60,437.12 L528.10,433.96 L528.60,435.84 L529.10,435.07 L529.60,433.85 L530.10,432.82 L530.60,431.19 L531.10,431.48 L531.60,428.67 L532.10,426.26 L532.60,425.38 L533.10,425.89 L533.60,425.16 L534.10,421.38 L534.60,419.02 L535.10,419.83 L535.60,417.36 L536.10,417.42 L536.60,414.57 L537.10,411.16 L537.60,409.68 L538.10,409.81 L538.60,408.62 L539.10,405.86 L539.60,405.77 L540.10,405.05 L540.60,399.67 L541.10,395.16 L541.60,392.77 L542.10,390.82 L542.60,389.93 L543.10,388.08 L543.60,386.30 L544.10,385.54 L544.60,380.61 L545.10,381.13 L545.60,384.96 L546.10,383.43 L546.60,380.69 L547.10,379.68 L547.60,379.80 L548.10,377.13 L548.60,373.98 L549.10,371.25 L549.60,371.02 L550.10,369.65 L550.60,368.42 L551.10,365.00 L551.60,361.50 L552.10,364.80 L552.60,367.18 L553.10,364.05 L553.60,364.79 L554.10,366.59 L554.60,358.95 L555.10,352.40 L555.60,358.42 L556.10,361.97 L556.60,358.64 L557.10,354.10 L557.60,353.07 L558.10,351.17 L558.60,348.07 L559.10,346.88 L559.60,344.06 L560.10,341.98 L560.60,342.50 L561.10,340.65 L561.60,337.30 L562.10,334.68 L562.60,333.18 L563.10,331.59 L563.60,329.87 L564.10,328.36 L564.60,326.66 L565.10,320.93 L565.60,314.50 L566.10,319.44 L566.60,321.02 L567.10,326.81 L567.60,334.60 L568.10,327.05 L568.60,319.90 L569.10,317.05 L569.60,317.99 L570.10,320.69 L570.60,317.40 L571.10,324.29 L571.60,331.54 L572.10,333.05 L572.60,334.79 L573.10,336.95 L573.60,342.10 L574.10,345.25 L574.60,349.70 L575.10,353.77 L575.60,358.09 L576.10,362.52 L576.60,365.35 L577.10,369.04 L577.60,373.07 L578.10,378.69 L578.60,384.92 L579.10,388.21 L579.60,393.38 L580.10,397.72 L580.60,401.58 L581.10,404.91 L581.60,407.23 L582.10,412.39 L582.60,417.09 L583.10,418.64 L583.60,421.61 L584.10,424.71 L584.60,428.12 L585.10,430.82 L585.60,435.32 L586.10,436.23 L586.60,437.85 L587.10,443.10 L587.60,445.37 L588.10,446.55 L588.60,447.91 L589.10,448.70 L589.60,450.46 L590.10,453.07 L590.60,454.97 L591.10,456.04 L591.60,456.18 L592.10,456.36 L592.60,457.83 L593.10,460.29 L593.60,461.26 L594.10,460.23 L594.60,460.75 L595.10,462.90 L595.60,463.50 L596.10,463.14 L596.60,461.91 L597.10,462.57 L597.60,463.38 L598.10,463.80 L598.60,463.49 L599.10,465.76 L599.60,466.10 L600.10,465.66 L600.60,464.79 L601.10,466.07 L601.60,467.05 L602.10,465.51 L602.60,466.72 L603.10,467.45 L603.60,466.90 L604.10,467.72 L604.60,467.77 L605.10,468.85 L605.60,468.73 L606.10,468.94 L606.60,470.33 L607.10,470.06 L607.60,469.47 L608.10,467.50 L608.60,467.83 L609.10,469.59 L609.60,469.95 L610.10,469.42 L610.60,469.44 L611.10,468.44 L611.60,468.75 L612.10,468.42 L612.60,469.27 L613.10,468.99 L613.60,468.90 L614.10,470.20 L614.60,471.33 L615.10,469.35 L615.60,469.46 L616.10,470.84 L616.60,470.73 L617.10,471.98 L617.60,471.21 L618.10,470.74 L618.60,471.50 L619.10,472.68 L619.60,472.09 L620.10,471.58 L620.60,470.73 L621.10,469.12 L621.60,470.03 L622.10,472.45 L622.60,472.52 L623.10,472.08 L623.60,471.77 L624.10,470.97 L624.60,471.10 L625.10,470.63 L625.60,471.19 L626.10,470.72 L626.60,471.12 L627.10,471.74 L627.60,471.55 L628.10,472.24 L628.60,472.38 L629.10,472.59 L629.60,472.63 L630.10,470.13 L630.60,469.84 L631.10,472.18 L631.60,470.84 L632.10,467.40 L632.60,470.81 L633.10,472.71 L633.60,471.59 L634.10,472.67 L634.60,472.59 L635.10,470.89 L635.60,470.77 L636.10,471.78 L636.60,471.39 L637.10,469.28 L637.60,471.34 L638.10,472.42 L638.60,472.23 L639.10,472.64 L639.60,472.51 L640.10,471.59 L640.60,472.35 L641.10,471.94 L641.60,471.41 L642.10,472.82 L642.60,473.55 L643.10,470.91 L643.60,469.72 L644.10,470.92 L644.60,473.92 L645.10,472.96 L645.60,472.16 L646.10,471.44 L646.60,470.68 L647.10,470.28 L647.60,472.23 L648.10,472.33 L648.60,470.38 L649.10,470.69 L649.60,471.59 L650.10,472.56 L650.60,473.41 L651.10,474.53 L651.60,475.00 L652.10,474.89 L652.60,474.21 L653.10,471.91 L653.60,472.29 L654.10,474.00 L654.60,473.62 L655.10,472.35 L655.60,470.22 L656.10,470.56 L656.60,473.21 L657.10,473.50 L657.60,472.66 L658.10,471.87 L658.60,471.19 L659.10,473.19 L659.60,474.86 L660.10,475.19 L660.60,473.64 L661.10,472.51 L661.60,472.30 L662.10,474.63 L662.60,475.16 L663.10,473.20 L663.60,473.28 L664.10,473.16 L664.60,471.71 L665.10,467.86 L665.60,465.00 L666.10,469.52 L666.60,471.60 L667.10,470.65 L667.60,469.89 L668.10,473.64 L668.60,474.28 L669.10,473.41 L669.60,472.78 L670.10,472.49 L670.60,472.88 L671.10,472.86 L671.60,472.93 L672.10,473.25 L672.60,474.02 L673.10,474.55 L673.60,472.35" fill="none" stroke="#6e6e6e" stroke-width="0.9"/>
<path d="M385.60,471.12 L386.10,471.14 L386.60,471.16 L387.10,471.18 L387.60,471.19 L388.10,471.21 L388.60,471.23 L389.10,471.25 L389.60,471.27 L390.10,471.28 L390.60,471.30 L391.10,471.32 L391.60,471.34 L392.10,471.36 L392.60,471.38 L393.10,471.39 L393.60,471.41 L394.10,471.43 L394.60,471.45 L395.10,471.47 L395.60,471.48 L396.10,471.50 L396.60,471.52 L397.10,471.54 L397.60,471.56 L398.10,471.57 L398.60,471.59 L399.10,471.61 L399.60,471.63 L400.10,471.65 L400.60,471.66 L401.10,471.68 L401.60,471.70 L402.10,471.72 L402.60,471.74 L403.10,471.76 L403.60,471.77 L404.10,471.79 L404.60,471.81 L405.10,471.83 L405.60,471.85 L406.10,471.86 L406.60,471.88 L407.10,471.90 L407.60,471.92 L408.10,471.94 L408.60,471.95 L409.10,471.97 L409.60,471.99 L410.10,472.01 L410.60,472.03 L411.10,472.04 L411.60,472.06 L412.10,472.08 L412.60,472.10 L413.10,472.12 L413.60,472.14 L414.10,472.15 L414.60,472.17 L415.10,472.19 L415.60,472.21 L416.10,472.23 L416.60,472.24 L417.10,472.26 L417.60,472.28 L418.10,472.30 L418.60,472.32 L419.10,472.33 L419.60,472.35 L420.10,472.37 L420.60,472.39 L421.10,472.41 L421.60,472.43 L422.10,472.44 L422.60,472.46 L423.10,472.48 L423.60,472.50 L424.10,472.52 L424.60,472.53 L425.10,472.55 L425.60,472.57 L426.10,472.59 L426.60,472.61 L427.10,472.62 L427.60,472.64 L428.10,472.66 L428.60,472.68 L429.10,472.70 L429.60,472.71 L430.10,472.73 L430.60,472.75 L431.10,472.77 L431.60,472.79 L432.10,472.81 L432.60,472.82 L433.10,472.84 L433.60,472.86 L434.10,472.88 L434.60,472.90 L435.10,472.91 L435.60,472.93 L436.10,472.95 L436.60,472.97 L437.10,472.99 L437.60,473.00 L438.10,473.02 L438.60,473.04 L439.10,473.06 L439.60,473.08 L440.10,473.09 L440.60,473.11 L441.10,473.13 L441.60,473.15 L442.10,473.17 L442.60,473.19 L443.10,473.20 L443.60,473.21 L444.10,473.22 L444.60,473.23 L445.10,473.24 L445.60,473.25 L446.10,473.26 L446.60,473.28 L447.10,473.29 L447.60,473.30 L448.10,473.31 L448.60,473.32 L449.10,473.33 L449.60,473.34 L450.10,473.35 L450.60,473.36 L451.10,473.37 L451.60,473.38 L452.10,473.39 L452.60,473.40 L453.10,473.41 L453.60,473.42 L454.10,473.43 L454.60,473.44 L455.10,473.45 L455.60,473.46 L456.10,473.47 L456.60,473.47 L457.10,473.48 L457.60,473.49 L458.10,473.50 L458.60,473.51 L459.10,473.51 L459.60,473.52 L460.10,473.53 L460.60,473.53 L461.10,473.53 L461.60,473.54 L462.10,473.54 L462.60,473.54 L463.10,473.54 L463.60,473.54 L464.10,473.54 L464.60,473.53 L465.10,473.53 L465.60,473.52 L466.10,473.51 L466.60,473.50 L467.10,473.48 L467.60,473.46 L468.10,473.44 L468.60,473.41 L469.10,473.39 L469.60,473.35 L470.10,473.31 L470.60,473.27 L471.10,473.22 L471.60,473.16 L472.10,473.10 L472.60,473.03 L473.10,472.96 L473.60,472.88 L474.10,472.78 L474.60,472.68 L475.10,472.57 L475.60,472.45 L476.10,472.32 L476.60,472.18 L477.10,472.03 L477.60,471.86 L478.10,471.68 L478.60,471.49 L479.10,471.29 L479.60,471.07 L480.10,470.83 L480.60,470.58 L481.10,470.32 L481.60,470.04 L482.10,469.74 L482.60,469.43 L483.10,469.10 L483.60,468.75 L484.10,468.39 L484.60,468.01 L485.10,467.62 L485.60,467.21 L486.10,466.78 L486.60,466.34 L487.10,465.89 L487.60,465.42 L488.10,464.94 L488.60,464.44 L489.10,463.94 L489.60,463.42 L490.10,462.90 L490.60,462.37 L491.10,461.83 L491.60,461.29 L492.10,460.75 L492.60,460.21 L493.10,459.66 L493.60,459.12 L494.10,458.59 L494.60,458.06 L495.10,457.54 L495.60,457.03 L496.10,456.53 L496.60,456.05 L497.10,455.59 L497.60,455.14 L498.10,454.72 L498.60,454.32 L499.10,453.94 L499.60,453.59 L500.10,453.26 L500.60,452.96 L501.10,452.69 L501.60,452.46 L502.10,452.25 L502.60,452.08 L503.10,451.95 L503.60,451.85 L504.10,451.79 L504.60,451.77 L505.10,451.78 L505.60,451.83 L506.10,451.91 L506.60,452.03 L507.10,452.19 L507.60,452.38 L508.10,452.61 L508.60,452.87 L509.10,453.16 L509.60,453.48 L510.10,453.83 L510.60,454.20 L511.10,454.61 L511.60,455.03 L512.10,455.48 L512.60,455.95 L513.10,456.44 L513.60,456.94 L514.10,457.46 L514.60,457.98 L515.10,458.52 L515.60,459.07 L516.10,459.62 L516.60,460.18 L517.10,460.73 L517.60,461.29 L518.10,461.85 L518.60,462.40 L519.10,462.95 L519.60,463.49 L520.10,464.02 L520.60,464.55 L521.10,465.06 L521.60,465.57 L522.10,466.06 L522.60,466.53 L523.10,467.00 L523.60,467.45 L524.10,467.88 L524.60,468.30 L525.10,468.70 L525.60,469.08 L526.10,469.45 L526.60,469.81 L527.10,470.14 L527.60,470.46 L528.10,470.77 L528.60,471.05 L529.10,471.33 L529.60,471.58 L530.10,471.83 L530.60,472.08 L531.10,472.31 L531.60,472.53 L532.10,472.73 L532.60,472.93 L533.10,473.11 L533.60,473.28 L534.10,473.44 L534.60,473.59 L535.10,473.73 L535.60,473.86 L536.10,473.98 L536.60,474.10 L537.10,474.20 L537.60,474.30 L538.10,474.39 L538.60,474.48 L539.10,474.56 L539.60,474.63 L540.10,474.71 L540.60,474.77 L541.10,474.84 L541.60,474.90 L542.10,474.96 L542.60,475.01 L543.10,475.07 L543.60,475.12 L544.10,475.16 L544.60,475.21 L545.10,475.25 L545.60,475.29 L546.10,475.33 L546.60,475.37 L547.10,475.41 L547.60,475.44 L548.10,475.47 L548.60,475.49 L549.10,475.50 L549.60,475.52 L550.10,475.53 L550.60,475.54 L551.10,475.55 L551.60,475.56 L552.10,475.58 L552.60,475.59 L553.10,475.60 L553.60,475.61 L554.10,475.62 L554.60,475.63 L555.10,475.64 L555.60,475.65 L556.10,475.66 L556.60,475.67 L557.10,475.68 L557.60,475.68 L558.10,475.69 L558.60,475.70 L559.10,475.71 L559.60,475.72 L560.10,475.73 L560.60,475.74 L561.10,475.75 L561.60,475.76 L562.10,475.76 L562.60,475.77 L563.10,475.78 L563.60,475.79 L564.10,475.80 L564.60,475.81 L565.10,475.82 L565.60,475.83 L566.10,475.83 L566.60,475.84 L567.10,475.85 L567.60,475.86 L568.10,475.87 L568.60,475.88 L569.10,475.89 L569.60,475.90 L570.10,475.90 L570.60,475.91 L571.10,475.92 L571.60,475.93 L572.10,475.94 L572.60,475.95 L573.10,475.96 L573.60,475.96 L574.10,475.97 L574.60,475.98 L575.10,475.99 L575.60,476.00 L576.10,476.01 L576.60,476.02 L577.10,476.03 L577.60,476.03 L578.10,476.04 L578.60,476.05 L579.10,476.06 L579.60,476.07 L580.10,476.08 L580.60,476.09 L581.10,476.10 L581.60,476.10 L582.10,476.11 L582.60,476.12 L583.10,476.13 L583.60,476.14 L584.10,476.15 L584.60,476.16 L585.10,476.16 L585.60,476.17 L586.10,476.18 L586.60,476.19 L587.10,476.20 L587.60,476.21 L588.10,476.22 L588.60,476.23 L589.10,476.23 L589.60,476.24 L590.10,476.25 L590.60,476.28 L591.10,476.30 L591.60,476.33 L592.10,476.35 L592.60,476.38 L593.10,476.40 L593.60,476.42 L594.10,476.45 L594.60,476.47 L595.10,476.50 L595.60,476.52 L596.10,476.54 L596.60,476.57 L597.10,476.59 L597.60,476.62 L598.10,476.64 L598.60,476.67 L599.10,476.69 L599.60,476.71 L600.10,476.74 L600.60,476.76 L601.10,476.78 L601.60,476.80 L602.10,476.82 L602.60,476.84 L603.10,476.86 L603.60,476.88 L604.10,476.90 L604.60,476.92 L605.10,476.93 L605.60,476.94 L606.10,476.94 L606.60,476.94 L607.10,476.94 L607.60,476.94 L608.10,476.95 L608.60,476.95 L609.10,476.95 L609.60,476.95 L610.10,476.95 L610.60,476.96 L611.10,476.96 L611.60,476.96 L612.10,476.96 L612.60,476.96 L613.10,476.97 L613.60,476.97 L614.10,476.97 L614.60,476.97 L615.10,476.97 L615.60,476.97 L616.10,476.98 L616.60,476.98 L617.10,476.98 L617.60,476.98 L618.10,476.98 L618.60,476.99 L619.10,476.99 L619.60,476.99 L620.10,476.99 L620.60,476.99 L621.10,477.00 L621.60,477.00 L622.10,477.00 L622.60,477.00 L623.10,477.00 L623.60,477.01 L624.10,477.01 L624.60,477.01 L625.10,477.01 L625.60,477.01 L626.10,477.02 L626.60,477.02 L627.10,477.02 L627.60,477.02 L628.10,477.02 L628.60,477.02 L629.10,477.03 L629.60,477.03 L630.10,477.03 L630.60,477.03 L631.10,477.03 L631.60,477.04 L632.10,477.04 L632.60,477.04 L633.10,477.04 L633.60,477.04 L634.10,477.05 L634.60,477.05 L635.10,477.05 L635.60,477.05 L636.10,477.05 L636.60,477.06 L637.10,477.06 L637.60,477.06 L638.10,477.06 L638.60,477.06 L639.10,477.07 L639.60,477.07 L640.10,477.07 L640.60,477.07 L641.10,477.07 L641.60,477.07 L642.10,477.08 L642.60,477.08 L643.10,477.08 L643.60,477.08 L644.10,477.08 L644.60,477.09 L645.10,477.09 L645.60,477.09 L646.10,477.09 L646.60,477.09 L647.10,477.10 L647.60,477.10 L648.10,477.10 L648.60,477.10 L649.10,477.10 L649.60,477.11 L650.10,477.11 L650.60,477.11 L651.10,477.11 L651.60,477.11 L652.10,477.12 L652.60,477.12 L653.10,477.12 L653.60,477.12 L654.10,477.12 L654.60,477.13 L655.10,477.13 L655.60,477.13 L656.10,477.13 L656.60,477.13 L657.10,477.13 L657.60,477.14 L658.10,477.14 L658.60,477.14 L659.10,477.14 L659.60,477.14 L660.10,477.15 L660.60,477.15 L661.10,477.15 L661.60,477.15 L662.10,477.15 L662.60,477.16 L663.10,477.16 L663.60,477.16 L664.10,477.16 L664.60,477.16 L665.10,477.17 L665.60,477.17 L666.10,477.17 L666.60,477.17 L667.10,477.17 L667.60,477.18 L668.10,477.18 L668.60,477.18 L669.10,477.18 L669.60,477.18 L670.10,477.18 L670.60,477.19 L671.10,477.19 L671.60,477.19 L672.10,477.19 L672.60,477.19 L673.10,477.20 L673.60,477.20" fill="none" stroke="#e8963c" stroke-width="1.3"/>
<path d="M385.60,470.57 L386.10,470.58 L386.60,470.60 L387.10,470.61 L387.60,470.63 L388.10,470.64 L388.60,470.65 L389.10,470.67 L389.60,470.68 L390.10,470.70 L390.60,470.71 L391.10,470.73 L391.60,470.74 L392.10,470.76 L392.60,470.77 L393.10,470.78 L393.60,470.80 L394.10,470.81 L394.60,470.83 L395.10,470.84 L395.60,470.85 L396.10,470.87 L396.60,470.88 L397.10,470.90 L397.60,470.91 L398.10,470.92 L398.60,470.94 L399.10,470.95 L399.60,470.97 L400.10,470.98 L400.60,470.99 L401.10,471.01 L401.60,471.02 L402.10,471.03 L402.60,471.05 L403.10,471.06 L403.60,471.07 L404.10,471.09 L404.60,471.10 L405.10,471.11 L405.60,471.13 L406.10,471.14 L406.60,471.15 L407.10,471.17 L407.60,471.18 L408.10,471.19 L408.60,471.20 L409.10,471.22 L409.60,471.23 L410.10,471.24 L410.60,471.26 L411.10,471.27 L411.60,471.28 L412.10,471.29 L412.60,471.31 L413.10,471.32 L413.60,471.33 L414.10,471.34 L414.60,471.35 L415.10,471.37 L415.60,471.38 L416.10,471.39 L416.60,471.40 L417.10,471.41 L417.60,471.43 L418.10,471.44 L418.60,471.45 L419.10,471.46 L419.60,471.47 L420.10,471.48 L420.60,471.49 L421.10,471.51 L421.60,471.52 L422.10,471.53 L422.60,471.54 L423.10,471.55 L423.60,471.56 L424.10,471.57 L424.60,471.58 L425.10,471.59 L425.60,471.60 L426.10,471.61 L426.60,471.62 L427.10,471.63 L427.60,471.64 L428.10,471.65 L428.60,471.66 L429.10,471.67 L429.60,471.68 L430.10,471.69 L430.60,471.70 L431.10,471.71 L431.60,471.72 L432.10,471.73 L432.60,471.74 L433.10,471.75 L433.60,471.75 L434.10,471.76 L434.60,471.77 L435.10,471.78 L435.60,471.79 L436.10,471.80 L436.60,471.80 L437.10,471.81 L437.60,471.82 L438.10,471.83 L438.60,471.83 L439.10,471.84 L439.60,471.85 L440.10,471.86 L440.60,471.86 L441.10,471.87 L441.60,471.88 L442.10,471.88 L442.60,471.89 L443.10,471.89 L443.60,471.89 L444.10,471.89 L444.60,471.89 L445.10,471.89 L445.60,471.88 L446.10,471.88 L446.60,471.88 L447.10,471.87 L447.60,471.87 L448.10,471.87 L448.60,471.86 L449.10,471.86 L449.60,471.86 L450.10,471.85 L450.60,471.85 L451.10,471.84 L451.60,471.84 L452.10,471.83 L452.60,471.83 L453.10,471.82 L453.60,471.82 L454.10,471.81 L454.60,471.80 L455.10,471.80 L455.60,471.79 L456.10,471.78 L456.60,471.78 L457.10,471.77 L457.60,471.76 L458.10,471.75 L458.60,471.74 L459.10,471.74 L459.60,471.73 L460.10,471.72 L460.60,471.71 L461.10,471.70 L461.60,471.69 L462.10,471.68 L462.60,471.66 L463.10,471.65 L463.60,471.64 L464.10,471.63 L464.60,471.62 L465.10,471.60 L465.60,471.59 L466.10,471.57 L466.60,471.56 L467.10,471.55 L467.60,471.53 L468.10,471.51 L468.60,471.50 L469.10,471.48 L469.60,471.46 L470.10,471.45 L470.60,471.43 L471.10,471.41 L471.60,471.39 L472.10,471.37 L472.60,471.35 L473.10,471.33 L473.60,471.31 L474.10,471.28 L474.60,471.26 L475.10,471.24 L475.60,471.21 L476.10,471.19 L476.60,471.16 L477.10,471.14 L477.60,471.11 L478.10,471.08 L478.60,471.05 L479.10,471.02 L479.60,470.99 L480.10,470.96 L480.60,470.93 L481.10,470.90 L481.60,470.87 L482.10,470.83 L482.60,470.80 L483.10,470.76 L483.60,470.72 L484.10,470.68 L484.60,470.64 L485.10,470.60 L485.60,470.56 L486.10,470.52 L486.60,470.47 L487.10,470.43 L487.60,470.38 L488.10,470.33 L488.60,470.28 L489.10,470.23 L489.60,470.18 L490.10,470.13 L490.60,470.07 L491.10,470.01 L491.60,469.96 L492.10,469.89 L492.60,469.83 L493.10,469.77 L493.60,469.70 L494.10,469.63 L494.60,469.56 L495.10,469.49 L495.60,469.42 L496.10,469.34 L496.60,469.26 L497.10,469.18 L497.60,469.10 L498.10,469.01 L498.60,468.92 L499.10,468.83 L499.60,468.73 L500.10,468.63 L500.60,468.52 L501.10,468.41 L501.60,468.29 L502.10,468.17 L502.60,468.04 L503.10,467.91 L503.60,467.78 L504.10,467.64 L504.60,467.49 L505.10,467.34 L505.60,467.19 L506.10,467.03 L506.60,466.86 L507.10,466.68 L507.60,466.50 L508.10,466.31 L508.60,466.11 L509.10,465.91 L509.60,465.69 L510.10,465.47 L510.60,465.23 L511.10,464.99 L511.60,464.73 L512.10,464.46 L512.60,464.18 L513.10,463.89 L513.60,463.58 L514.10,463.26 L514.60,462.92 L515.10,462.56 L515.60,462.19 L516.10,461.80 L516.60,461.39 L517.10,460.97 L517.60,460.52 L518.10,460.05 L518.60,459.55 L519.10,459.04 L519.60,458.50 L520.10,457.93 L520.60,457.34 L521.10,456.71 L521.60,456.06 L522.10,455.38 L522.60,454.67 L523.10,453.93 L523.60,453.15 L524.10,452.34 L524.60,451.50 L525.10,450.62 L525.60,449.70 L526.10,448.74 L526.60,447.75 L527.10,446.71 L527.60,445.64 L528.10,444.53 L528.60,443.37 L529.10,442.17 L529.60,440.94 L530.10,439.66 L530.60,438.36 L531.10,437.01 L531.60,435.63 L532.10,434.20 L532.60,432.74 L533.10,431.23 L533.60,429.69 L534.10,428.11 L534.60,426.49 L535.10,424.85 L535.60,423.17 L536.10,421.47 L536.60,419.74 L537.10,418.00 L537.60,416.23 L538.10,414.46 L538.60,412.69 L539.10,410.91 L539.60,409.15 L540.10,407.40 L540.60,405.68 L541.10,403.99 L541.60,402.35 L542.10,400.75 L542.60,399.22 L543.10,397.77 L543.60,396.39 L544.10,395.11 L544.60,393.94 L545.10,392.88 L545.60,391.95 L546.10,391.15 L546.60,390.49 L547.10,389.99 L547.60,389.63 L548.10,389.43 L548.60,389.38 L549.10,389.49 L549.60,389.76 L550.10,390.19 L550.60,390.77 L551.10,391.49 L551.60,392.36 L552.10,393.36 L552.60,394.48 L553.10,395.72 L553.60,397.06 L554.10,398.49 L554.60,400.00 L555.10,401.58 L555.60,403.22 L556.10,404.91 L556.60,406.65 L557.10,408.41 L557.60,410.19 L558.10,411.99 L558.60,413.80 L559.10,415.61 L559.60,417.41 L560.10,419.20 L560.60,420.97 L561.10,422.72 L561.60,424.45 L562.10,426.15 L562.60,427.83 L563.10,429.46 L563.60,431.07 L564.10,432.63 L564.60,434.16 L565.10,435.65 L565.60,437.10 L566.10,438.50 L566.60,439.87 L567.10,441.19 L567.60,442.48 L568.10,443.72 L568.60,444.92 L569.10,446.07 L569.60,447.19 L570.10,448.27 L570.60,449.30 L571.10,450.30 L571.60,451.26 L572.10,452.18 L572.60,453.07 L573.10,453.92 L573.60,454.73 L574.10,455.51 L574.60,456.26 L575.10,456.98 L575.60,457.66 L576.10,458.32 L576.60,458.94 L577.10,459.54 L577.60,460.12 L578.10,460.66 L578.60,461.19 L579.10,461.69 L579.60,462.17 L580.10,462.62 L580.60,463.06 L581.10,463.47 L581.60,463.87 L582.10,464.25 L582.60,464.61 L583.10,464.96 L583.60,465.29 L584.10,465.61 L584.60,465.91 L585.10,466.20 L585.60,466.48 L586.10,466.75 L586.60,467.00 L587.10,467.25 L587.60,467.48 L588.10,467.71 L588.60,467.92 L589.10,468.13 L589.60,468.33 L590.10,468.53 L590.60,468.73 L591.10,468.92 L591.60,469.11 L592.10,469.29 L592.60,469.47 L593.10,469.64 L593.60,469.81 L594.10,469.97 L594.60,470.13 L595.10,470.28 L595.60,470.43 L596.10,470.57 L596.60,470.71 L597.10,470.85 L597.60,470.98 L598.10,471.11 L598.60,471.24 L599.10,471.36 L599.60,471.48 L600.10,471.60 L600.60,471.71 L601.10,471.82 L601.60,471.93 L602.10,472.03 L602.60,472.14 L603.10,472.24 L603.60,472.33 L604.10,472.43 L604.60,472.52 L605.10,472.61 L605.60,472.68 L606.10,472.76 L606.60,472.82 L607.10,472.89 L607.60,472.96 L608.10,473.02 L608.60,473.09 L609.10,473.15 L609.60,473.21 L610.10,473.27 L610.60,473.32 L611.10,473.38 L611.60,473.44 L612.10,473.49 L612.60,473.54 L613.10,473.59 L613.60,473.65 L614.10,473.70 L614.60,473.74 L615.10,473.79 L615.60,473.84 L616.10,473.88 L616.60,473.93 L617.10,473.97 L617.60,474.02 L618.10,474.06 L618.60,474.10 L619.10,474.14 L619.60,474.18 L620.10,474.22 L620.60,474.26 L621.10,474.30 L621.60,474.33 L622.10,474.37 L622.60,474.41 L623.10,474.44 L623.60,474.48 L624.10,474.51 L624.60,474.54 L625.10,474.58 L625.60,474.61 L626.10,474.64 L626.60,474.67 L627.10,474.70 L627.60,474.73 L628.10,474.76 L628.60,474.79 L629.10,474.82 L629.60,474.85 L630.10,474.87 L630.60,474.90 L631.10,474.93 L631.60,474.95 L632.10,474.98 L632.60,475.01 L633.10,475.03 L633.60,475.06 L634.10,475.08 L634.60,475.10 L635.10,475.13 L635.60,475.15 L636.10,475.17 L636.60,475.20 L637.10,475.22 L637.60,475.24 L638.10,475.26 L638.60,475.28 L639.10,475.30 L639.60,475.33 L640.10,475.35 L640.60,475.37 L641.10,475.39 L641.60,475.41 L642.10,475.42 L642.60,475.44 L643.10,475.46 L643.60,475.48 L644.10,475.50 L644.60,475.52 L645.10,475.53 L645.60,475.55 L646.10,475.57 L646.60,475.59 L647.10,475.60 L647.60,475.62 L648.10,475.64 L648.60,475.65 L649.10,475.67 L649.60,475.68 L650.10,475.70 L650.60,475.72 L651.10,475.73 L651.60,475.75 L652.10,475.76 L652.60,475.77 L653.10,475.79 L653.60,475.80 L654.10,475.82 L654.60,475.83 L655.10,475.85 L655.60,475.86 L656.10,475.87 L656.60,475.89 L657.10,475.90 L657.60,475.91 L658.10,475.92 L658.60,475.94 L659.10,475.95 L659.60,475.96 L660.10,475.97 L660.60,475.99 L661.10,476.00 L661.60,476.01 L662.10,476.02 L662.60,476.03 L663.10,476.05 L663.60,476.06 L664.10,476.07 L664.60,476.08 L665.10,476.09 L665.60,476.10 L666.10,476.11 L666.60,476.12 L667.10,476.13 L667.60,476.14 L668.10,476.15 L668.60,476.16 L669.10,476.18 L669.60,476.19 L670.10,476.20 L670.60,476.21 L671.10,476.21 L671.60,476.22 L672.10,476.23 L672.60,476.24 L673.10,476.25 L673.60,476.26" fill="none" stroke="#1e7878" stroke-width="1.3"/>
<path d="M385.60,470.73 L386.10,470.74 L386.60,470.75 L387.10,470.76 L387.60,470.77 L388.10,470.78 L388.60,470.79 L389.10,470.80 L389.60,470.81 L390.10,470.81 L390.60,470.82 L391.10,470.83 L391.60,470.84 L392.10,470.84 L392.60,470.85 L393.10,470.85 L393.60,470.86 L394.10,470.86 L394.60,470.86 L395.10,470.86 L395.60,470.86 L396.10,470.86 L396.60,470.86 L397.10,470.85 L397.60,470.85 L398.10,470.84 L398.60,470.83 L399.10,470.81 L399.60,470.80 L400.10,470.78 L400.60,470.75 L401.10,470.73 L401.60,470.70 L402.10,470.66 L402.60,470.63 L403.10,470.58 L403.60,470.53 L404.10,470.48 L404.60,470.41 L405.10,470.34 L405.60,470.27 L406.10,470.18 L406.60,470.08 L407.10,469.98 L407.60,469.86 L408.10,469.73 L408.60,469.59 L409.10,469.44 L409.60,469.28 L410.10,469.09 L410.60,468.90 L411.10,468.69 L411.60,468.45 L412.10,468.21 L412.60,467.94 L413.10,467.65 L413.60,467.34 L414.10,467.01 L414.60,466.66 L415.10,466.28 L415.60,465.88 L416.10,465.46 L416.60,465.01 L417.10,464.54 L417.60,464.04 L418.10,463.51 L418.60,462.96 L419.10,462.38 L419.60,461.77 L420.10,461.14 L420.60,460.48 L421.10,459.80 L421.60,459.09 L422.10,458.36 L422.60,457.61 L423.10,456.83 L423.60,456.03 L424.10,455.22 L424.60,454.39 L425.10,453.54 L425.60,452.69 L426.10,451.82 L426.60,450.94 L427.10,450.06 L427.60,449.17 L428.10,448.29 L428.60,447.40 L429.10,446.53 L429.60,445.67 L430.10,444.82 L430.60,443.98 L431.10,443.17 L431.60,442.38 L432.10,441.62 L432.60,440.90 L433.10,440.21 L433.60,439.55 L434.10,438.95 L434.60,438.39 L435.10,437.88 L435.60,437.43 L436.10,437.03 L436.60,436.69 L437.10,436.42 L437.60,436.21 L438.10,436.07 L438.60,435.99 L439.10,435.98 L439.60,436.04 L440.10,436.16 L440.60,436.36 L441.10,436.62 L441.60,436.94 L442.10,437.33 L442.60,437.77 L443.10,438.27 L443.60,438.82 L444.10,439.41 L444.60,440.06 L445.10,440.75 L445.60,441.47 L446.10,442.24 L446.60,443.03 L447.10,443.85 L447.60,444.70 L448.10,445.56 L448.60,446.44 L449.10,447.34 L449.60,448.24 L450.10,449.16 L450.60,450.07 L451.10,450.98 L451.60,451.89 L452.10,452.80 L452.60,453.69 L453.10,454.58 L453.60,455.45 L454.10,456.31 L454.60,457.15 L455.10,457.97 L455.60,458.77 L456.10,459.54 L456.60,460.30 L457.10,461.03 L457.60,461.74 L458.10,462.42 L458.60,463.07 L459.10,463.70 L459.60,464.30 L460.10,464.88 L460.60,465.43 L461.10,465.96 L461.60,466.45 L462.10,466.93 L462.60,467.37 L463.10,467.80 L463.60,468.20 L464.10,468.57 L464.60,468.93 L465.10,469.26 L465.60,469.57 L466.10,469.87 L466.60,470.14 L467.10,470.39 L467.60,470.63 L468.10,470.86 L468.60,471.06 L469.10,471.25 L469.60,471.43 L470.10,471.60 L470.60,471.75 L471.10,471.89 L471.60,472.03 L472.10,472.15 L472.60,472.26 L473.10,472.37 L473.60,472.46 L474.10,472.55 L474.60,472.64 L475.10,472.71 L475.60,472.79 L476.10,472.85 L476.60,472.92 L477.10,472.97 L477.60,473.03 L478.10,473.08 L478.60,473.12 L479.10,473.17 L479.60,473.21 L480.10,473.25 L480.60,473.29 L481.10,473.32 L481.60,473.35 L482.10,473.39 L482.60,473.42 L483.10,473.44 L483.60,473.47 L484.10,473.50 L484.60,473.52 L485.10,473.55 L485.60,473.57 L486.10,473.60 L486.60,473.62 L487.10,473.64 L487.60,473.66 L488.10,473.68 L488.60,473.70 L489.10,473.72 L489.60,473.74 L490.10,473.76 L490.60,473.78 L491.10,473.80 L491.60,473.82 L492.10,473.83 L492.60,473.85 L493.10,473.87 L493.60,473.89 L494.10,473.90 L494.60,473.92 L495.10,473.94 L495.60,473.95 L496.10,473.97 L496.60,473.99 L497.10,474.00 L497.60,474.02 L498.10,474.03 L498.60,474.05 L499.10,474.07 L499.60,474.08 L500.10,474.10 L500.60,474.10 L501.10,474.11 L501.60,474.12 L502.10,474.13 L502.60,474.14 L503.10,474.14 L503.60,474.15 L504.10,474.16 L504.60,474.17 L505.10,474.18 L505.60,474.18 L506.10,474.19 L506.60,474.20 L507.10,474.21 L507.60,474.21 L508.10,474.22 L508.60,474.23 L509.10,474.23 L509.60,474.24 L510.10,474.25 L510.60,474.25 L511.10,474.26 L511.60,474.27 L512.10,474.27 L512.60,474.28 L513.10,474.29 L513.60,474.29 L514.10,474.30 L514.60,474.31 L515.10,474.31 L515.60,474.32 L516.10,474.33 L516.60,474.33 L517.10,474.34 L517.60,474.34 L518.10,474.35 L518.60,474.36 L519.10,474.36 L519.60,474.37 L520.10,474.37 L520.60,474.38 L521.10,474.39 L521.60,474.39 L522.10,474.40 L522.60,474.40 L523.10,474.41 L523.60,474.41 L524.10,474.42 L524.60,474.42 L525.10,474.43 L525.60,474.44 L526.10,474.44 L526.60,474.45 L527.10,474.45 L527.60,474.46 L528.10,474.46 L528.60,474.47 L529.10,474.47 L529.60,474.48 L530.10,474.49 L530.60,474.51 L531.10,474.54 L531.60,474.56 L532.10,474.59 L532.60,474.61 L533.10,474.64 L533.60,474.66 L534.10,474.69 L534.60,474.71 L535.10,474.73 L535.60,474.76 L536.10,474.78 L536.60,474.81 L537.10,474.83 L537.60,474.86 L538.10,474.88 L538.60,474.91 L539.10,474.93 L539.60,474.95 L540.10,474.98 L540.60,475.01 L541.10,475.04 L541.60,475.06 L542.10,475.09 L542.60,475.12 L543.10,475.15 L543.60,475.18 L544.10,475.20 L544.60,475.23 L545.10,475.26 L545.60,475.29 L546.10,475.31 L546.60,475.34 L547.10,475.37 L547.60,475.40 L548.10,475.42 L548.60,475.43 L549.10,475.44 L549.60,475.45 L550.10,475.46 L550.60,475.47 L551.10,475.48 L551.60,475.49 L552.10,475.50 L552.60,475.51 L553.10,475.52 L553.60,475.53 L554.10,475.54 L554.60,475.55 L555.10,475.56 L555.60,475.57 L556.10,475.57 L556.60,475.58 L557.10,475.59 L557.60,475.60 L558.10,475.61 L558.60,475.62 L559.10,475.63 L559.60,475.64 L560.10,475.65 L560.60,475.66 L561.10,475.67 L561.60,475.68 L562.10,475.69 L562.60,475.70 L563.10,475.71 L563.60,475.71 L564.10,475.72 L564.60,475.73 L565.10,475.74 L565.60,475.75 L566.10,475.76 L566.60,475.77 L567.10,475.78 L567.60,475.79 L568.10,475.80 L568.60,475.81 L569.10,475.82 L569.60,475.83 L570.10,475.84 L570.60,475.84 L571.10,475.85 L571.60,475.86 L572.10,475.87 L572.60,475.88 L573.10,475.89 L573.60,475.90 L574.10,475.91 L574.60,475.92 L575.10,475.93 L575.60,475.94 L576.10,475.95 L576.60,475.95 L577.10,475.96 L577.60,475.97 L578.10,475.98 L578.60,475.99 L579.10,476.00 L579.60,476.01 L580.10,476.02 L580.60,476.03 L581.10,476.04 L581.60,476.05 L582.10,476.05 L582.60,476.06 L583.10,476.07 L583.60,476.08 L584.10,476.09 L584.60,476.10 L585.10,476.11 L585.60,476.12 L586.10,476.13 L586.60,476.14 L587.10,476.15 L587.60,476.15 L588.10,476.16 L588.60,476.17 L589.10,476.18 L589.60,476.19 L590.10,476.20 L590.60,476.23 L591.10,476.25 L591.60,476.28 L592.10,476.30 L592.60,476.33 L593.10,476.35 L593.60,476.37 L594.10,476.40 L594.60,476.42 L595.10,476.45 L595.60,476.47 L596.10,476.50 L596.60,476.52 L597.10,476.55 L597.60,476.57 L598.10,476.59 L598.60,476.62 L599.10,476.64 L599.60,476.67 L600.10,476.69 L600.60,476.71 L601.10,476.73 L601.60,476.75 L602.10,476.77 L602.60,476.79 L603.10,476.81 L603.60,476.83 L604.10,476.85 L604.60,476.87 L605.10,476.89 L605.60,476.89 L606.10,476.90 L606.60,476.90 L607.10,476.90 L607.60,476.90 L608.10,476.90 L608.60,476.91 L609.10,476.91 L609.60,476.91 L610.10,476.91 L610.60,476.91 L611.10,476.92 L611.60,476.92 L612.10,476.92 L612.60,476.92 L613.10,476.93 L613.60,476.93 L614.10,476.93 L614.60,476.93 L615.10,476.93 L615.60,476.94 L616.10,476.94 L616.60,476.94 L617.10,476.94 L617.60,476.95 L618.10,476.95 L618.60,476.95 L619.10,476.95 L619.60,476.95 L620.10,476.96 L620.60,476.96 L621.10,476.96 L621.60,476.96 L622.10,476.96 L622.60,476.97 L623.10,476.97 L623.60,476.97 L624.10,476.97 L624.60,476.97 L625.10,476.98 L625.60,476.98 L626.10,476.98 L626.60,476.98 L627.10,476.99 L627.60,476.99 L628.10,476.99 L628.60,476.99 L629.10,476.99 L629.60,477.00 L630.10,477.00 L630.60,477.00 L631.10,477.00 L631.60,477.00 L632.10,477.01 L632.60,477.01 L633.10,477.01 L633.60,477.01 L634.10,477.01 L634.60,477.02 L635.10,477.02 L635.60,477.02 L636.10,477.02 L636.60,477.03 L637.10,477.03 L637.60,477.03 L638.10,477.03 L638.60,477.03 L639.10,477.04 L639.60,477.04 L640.10,477.04 L640.60,477.04 L641.10,477.04 L641.60,477.05 L642.10,477.05 L642.60,477.05 L643.10,477.05 L643.60,477.05 L644.10,477.06 L644.60,477.06 L645.10,477.06 L645.60,477.06 L646.10,477.06 L646.60,477.07 L647.10,477.07 L647.60,477.07 L648.10,477.07 L648.60,477.07 L649.10,477.08 L649.60,477.08 L650.10,477.08 L650.60,477.08 L651.10,477.09 L651.60,477.09 L652.10,477.09 L652.60,477.09 L653.10,477.09 L653.60,477.10 L654.10,477.10 L654.60,477.10 L655.10,477.10 L655.60,477.10 L656.10,477.11 L656.60,477.11 L657.10,477.11 L657.60,477.11 L658.10,477.11 L658.60,477.12 L659.10,477.12 L659.60,477.12 L660.10,477.12 L660.60,477.12 L661.10,477.13 L661.60,477.13 L662.10,477.13 L662.60,477.13 L663.10,477.13 L663.60,477.14 L664.10,477.14 L664.60,477.14 L665.10,477.14 L665.60,477.14 L666.10,477.15 L666.60,477.15 L667.10,477.15 L667.60,477.15 L668.10,477.15 L668.60,477.16 L669.10,477.16 L669.60,477.16 L670.10,477.16 L670.60,477.16 L671.10,477.17 L671.60,477.17 L672.10,477.17 L672.60,477.17 L673.10,477.17 L673.60,477.18" fill="none" stroke="#3cc8dc" stroke-width="1.8"/>
<path d="M385.60,470.08 L386.10,470.09 L386.60,470.10 L387.10,470.10 L387.60,470.11 L388.10,470.11 L388.60,470.12 L389.10,470.12 L389.60,470.13 L390.10,470.13 L390.60,470.14 L391.10,470.14 L391.60,470.14 L392.10,470.14 L392.60,470.14 L393.10,470.14 L393.60,470.14 L394.10,470.14 L394.60,470.14 L395.10,470.14 L395.60,470.13 L396.10,470.12 L396.60,470.12 L397.10,470.11 L397.60,470.10 L398.10,470.08 L398.60,470.07 L399.10,470.05 L399.60,470.03 L400.10,470.00 L400.60,469.98 L401.10,469.94 L401.60,469.91 L402.10,469.87 L402.60,469.83 L403.10,469.78 L403.60,469.72 L404.10,469.66 L404.60,469.59 L405.10,469.52 L405.60,469.43 L406.10,469.34 L406.60,469.24 L407.10,469.13 L407.60,469.01 L408.10,468.87 L408.60,468.73 L409.10,468.57 L409.60,468.40 L410.10,468.21 L410.60,468.00 L411.10,467.79 L411.60,467.55 L412.10,467.29 L412.60,467.02 L413.10,466.73 L413.60,466.41 L414.10,466.07 L414.60,465.71 L415.10,465.33 L415.60,464.92 L416.10,464.49 L416.60,464.04 L417.10,463.56 L417.60,463.05 L418.10,462.51 L418.60,461.95 L419.10,461.37 L419.60,460.75 L420.10,460.11 L420.60,459.45 L421.10,458.76 L421.60,458.04 L422.10,457.30 L422.60,456.54 L423.10,455.76 L423.60,454.95 L424.10,454.13 L424.60,453.29 L425.10,452.44 L425.60,451.57 L426.10,450.69 L426.60,449.80 L427.10,448.91 L427.60,448.02 L428.10,447.12 L428.60,446.23 L429.10,445.35 L429.60,444.48 L430.10,443.62 L430.60,442.77 L431.10,441.95 L431.60,441.15 L432.10,440.38 L432.60,439.65 L433.10,438.94 L433.60,438.28 L434.10,437.67 L434.60,437.10 L435.10,436.58 L435.60,436.11 L436.10,435.70 L436.60,435.36 L437.10,435.07 L437.60,434.85 L438.10,434.69 L438.60,434.60 L439.10,434.58 L439.60,434.63 L440.10,434.74 L440.60,434.92 L441.10,435.17 L441.60,435.48 L442.10,435.85 L442.60,436.28 L443.10,436.77 L443.60,437.30 L444.10,437.89 L444.60,438.52 L445.10,439.19 L445.60,439.90 L446.10,440.65 L446.60,441.43 L447.10,442.23 L447.60,443.06 L448.10,443.91 L448.60,444.78 L449.10,445.66 L449.60,446.55 L450.10,447.44 L450.60,448.34 L451.10,449.24 L451.60,450.13 L452.10,451.02 L452.60,451.89 L453.10,452.76 L453.60,453.61 L454.10,454.45 L454.60,455.27 L455.10,456.07 L455.60,456.85 L456.10,457.60 L456.60,458.34 L457.10,459.05 L457.60,459.73 L458.10,460.39 L458.60,461.02 L459.10,461.62 L459.60,462.20 L460.10,462.75 L460.60,463.27 L461.10,463.76 L461.60,464.23 L462.10,464.67 L462.60,465.09 L463.10,465.48 L463.60,465.84 L464.10,466.18 L464.60,466.49 L465.10,466.78 L465.60,467.05 L466.10,467.29 L466.60,467.51 L467.10,467.72 L467.60,467.90 L468.10,468.06 L468.60,468.20 L469.10,468.32 L469.60,468.42 L470.10,468.51 L470.60,468.58 L471.10,468.63 L471.60,468.66 L472.10,468.68 L472.60,468.68 L473.10,468.66 L473.60,468.63 L474.10,468.58 L474.60,468.51 L475.10,468.43 L475.60,468.34 L476.10,468.22 L476.60,468.09 L477.10,467.95 L477.60,467.78 L478.10,467.60 L478.60,467.40 L479.10,467.19 L479.60,466.95 L480.10,466.70 L480.60,466.43 L481.10,466.15 L481.60,465.84 L482.10,465.51 L482.60,465.17 L483.10,464.81 L483.60,464.43 L484.10,464.03 L484.60,463.61 L485.10,463.17 L485.60,462.72 L486.10,462.24 L486.60,461.76 L487.10,461.25 L487.60,460.73 L488.10,460.19 L488.60,459.64 L489.10,459.08 L489.60,458.51 L490.10,457.92 L490.60,457.33 L491.10,456.73 L491.60,456.12 L492.10,455.51 L492.60,454.89 L493.10,454.27 L493.60,453.66 L494.10,453.04 L494.60,452.43 L495.10,451.83 L495.60,451.23 L496.10,450.65 L496.60,450.08 L497.10,449.52 L497.60,448.98 L498.10,448.45 L498.60,447.94 L499.10,447.46 L499.60,447.00 L500.10,446.56 L500.60,446.14 L501.10,445.75 L501.60,445.39 L502.10,445.06 L502.60,444.75 L503.10,444.48 L503.60,444.24 L504.10,444.03 L504.60,443.85 L505.10,443.70 L505.60,443.58 L506.10,443.49 L506.60,443.43 L507.10,443.40 L507.60,443.40 L508.10,443.42 L508.60,443.47 L509.10,443.54 L509.60,443.63 L510.10,443.75 L510.60,443.87 L511.10,444.02 L511.60,444.17 L512.10,444.33 L512.60,444.50 L513.10,444.68 L513.60,444.86 L514.10,445.03 L514.60,445.21 L515.10,445.37 L515.60,445.53 L516.10,445.67 L516.60,445.80 L517.10,445.91 L517.60,445.99 L518.10,446.06 L518.60,446.10 L519.10,446.10 L519.60,446.08 L520.10,446.02 L520.60,445.93 L521.10,445.80 L521.60,445.62 L522.10,445.40 L522.60,445.14 L523.10,444.83 L523.60,444.48 L524.10,444.07 L524.60,443.61 L525.10,443.10 L525.60,442.53 L526.10,441.91 L526.60,441.23 L527.10,440.49 L527.60,439.70 L528.10,438.85 L528.60,437.94 L529.10,436.97 L529.60,435.95 L530.10,434.86 L530.60,433.72 L531.10,432.52 L531.60,431.26 L532.10,429.94 L532.60,428.57 L533.10,427.15 L533.60,425.67 L534.10,424.14 L534.60,422.56 L535.10,420.93 L535.60,419.26 L536.10,417.54 L536.60,415.79 L537.10,414.00 L537.60,412.17 L538.10,410.32 L538.60,408.45 L539.10,406.56 L539.60,404.65 L540.10,402.74 L540.60,400.83 L541.10,398.93 L541.60,397.04 L542.10,395.17 L542.60,393.32 L543.10,391.51 L543.60,389.74 L544.10,388.02 L544.60,386.35 L545.10,384.74 L545.60,383.20 L546.10,381.73 L546.60,380.32 L547.10,378.99 L547.60,377.73 L548.10,376.54 L548.60,375.41 L549.10,374.34 L549.60,373.33 L550.10,372.36 L550.60,371.43 L551.10,370.52 L551.60,369.62 L552.10,368.72 L552.60,367.81 L553.10,366.86 L553.60,365.88 L554.10,364.85 L554.60,363.76 L555.10,362.59 L555.60,361.34 L556.10,360.01 L556.60,358.58 L557.10,357.06 L557.60,355.45 L558.10,353.74 L558.60,351.95 L559.10,350.07 L559.60,348.13 L560.10,346.12 L560.60,344.06 L561.10,341.98 L561.60,339.88 L562.10,337.78 L562.60,335.71 L563.10,333.69 L563.60,331.75 L564.10,329.91 L564.60,328.20 L565.10,326.64 L565.60,325.27 L566.10,324.11 L566.60,323.18 L567.10,322.52 L567.60,322.15 L568.10,322.08 L568.60,322.33 L569.10,322.92 L569.60,323.85 L570.10,325.13 L570.60,326.75 L571.10,328.70 L571.60,330.98 L572.10,333.57 L572.60,336.46 L573.10,339.61 L573.60,343.00 L574.10,346.61 L574.60,350.41 L575.10,354.37 L575.60,358.47 L576.10,362.68 L576.60,366.96 L577.10,371.30 L577.60,375.67 L578.10,380.05 L578.60,384.41 L579.10,388.74 L579.60,393.01 L580.10,397.21 L580.60,401.32 L581.10,405.34 L581.60,409.23 L582.10,413.01 L582.60,416.65 L583.10,420.14 L583.60,423.50 L584.10,426.70 L584.60,429.74 L585.10,432.64 L585.60,435.37 L586.10,437.95 L586.60,440.38 L587.10,442.66 L587.60,444.79 L588.10,446.78 L588.60,448.63 L589.10,450.35 L589.60,451.94 L590.10,453.41 L590.60,454.77 L591.10,456.03 L591.60,457.18 L592.10,458.24 L592.60,459.22 L593.10,460.11 L593.60,460.93 L594.10,461.67 L594.60,462.36 L595.10,462.99 L595.60,463.56 L596.10,464.09 L596.60,464.57 L597.10,465.01 L597.60,465.42 L598.10,465.79 L598.60,466.14 L599.10,466.46 L599.60,466.75 L600.10,467.03 L600.60,467.28 L601.10,467.52 L601.60,467.74 L602.10,467.94 L602.60,468.14 L603.10,468.32 L603.60,468.49 L604.10,468.66 L604.60,468.82 L605.10,468.96 L605.60,469.11 L606.10,469.25 L606.60,469.38 L607.10,469.50 L607.60,469.63 L608.10,469.74 L608.60,469.86 L609.10,469.97 L609.60,470.07 L610.10,470.18 L610.60,470.28 L611.10,470.38 L611.60,470.47 L612.10,470.56 L612.60,470.65 L613.10,470.74 L613.60,470.83 L614.10,470.91 L614.60,470.99 L615.10,471.07 L615.60,471.15 L616.10,471.22 L616.60,471.30 L617.10,471.37 L617.60,471.44 L618.10,471.51 L618.60,471.58 L619.10,471.64 L619.60,471.71 L620.10,471.77 L620.60,471.83 L621.10,471.89 L621.60,471.95 L622.10,472.01 L622.60,472.07 L623.10,472.12 L623.60,472.18 L624.10,472.23 L624.60,472.28 L625.10,472.33 L625.60,472.38 L626.10,472.43 L626.60,472.48 L627.10,472.53 L627.60,472.58 L628.10,472.62 L628.60,472.67 L629.10,472.71 L629.60,472.75 L630.10,472.80 L630.60,472.84 L631.10,472.88 L631.60,472.92 L632.10,472.96 L632.60,473.00 L633.10,473.04 L633.60,473.07 L634.10,473.11 L634.60,473.15 L635.10,473.18 L635.60,473.22 L636.10,473.25 L636.60,473.29 L637.10,473.32 L637.60,473.35 L638.10,473.39 L638.60,473.42 L639.10,473.45 L639.60,473.48 L640.10,473.51 L640.60,473.54 L641.10,473.57 L641.60,473.60 L642.10,473.63 L642.60,473.66 L643.10,473.68 L643.60,473.71 L644.10,473.74 L644.60,473.77 L645.10,473.79 L645.60,473.82 L646.10,473.84 L646.60,473.87 L647.10,473.89 L647.60,473.92 L648.10,473.94 L648.60,473.97 L649.10,473.99 L649.60,474.01 L650.10,474.04 L650.60,474.06 L651.10,474.08 L651.60,474.10 L652.10,474.12 L652.60,474.15 L653.10,474.17 L653.60,474.19 L654.10,474.21 L654.60,474.23 L655.10,474.25 L655.60,474.27 L656.10,474.29 L656.60,474.31 L657.10,474.33 L657.60,474.35 L658.10,474.37 L658.60,474.38 L659.10,474.40 L659.60,474.42 L660.10,474.44 L660.60,474.46 L661.10,474.47 L661.60,474.49 L662.10,474.51 L662.60,474.52 L663.10,474.54 L663.60,474.56 L664.10,474.57 L664.60,474.59 L665.10,474.61 L665.60,474.62 L666.10,474.64 L666.60,474.65 L667.10,474.67 L667.60,474.69 L668.10,474.70 L668.60,474.72 L669.10,474.73 L669.60,474.74 L670.10,474.76 L670.60,474.77 L671.10,474.79 L671.60,474.80 L672.10,474.82 L672.60,474.83 L673.10,474.84 L673.60,474.86" fill="none" stroke="#c81e6e" stroke-width="1.4"/>
<path d="M385.60,471.12 L386.10,471.14 L386.60,471.16 L387.10,471.18 L387.60,471.19 L388.10,471.21 L388.60,471.23 L389.10,471.25 L389.60,471.27 L390.10,471.28 L390.60,471.30 L391.10,471.32 L391.60,471.34 L392.10,471.36 L392.60,471.38 L393.10,471.39 L393.60,471.41 L394.10,471.43 L394.60,471.45 L395.10,471.47 L395.60,471.48 L396.10,471.50 L396.60,471.52 L397.10,471.54 L397.60,471.56 L398.10,471.57 L398.60,471.59 L399.10,471.61 L399.60,471.63 L400.10,471.65 L400.60,471.66 L401.10,471.68 L401.60,471.70 L402.10,471.72 L402.60,471.74 L403.10,471.76 L403.60,471.77 L404.10,471.79 L404.60,471.81 L405.10,471.83 L405.60,471.85 L406.10,471.86 L406.60,471.88 L407.10,471.90 L407.60,471.92 L408.10,471.94 L408.60,471.95 L409.10,471.97 L409.60,471.99 L410.10,472.01 L410.60,472.03 L411.10,472.05 L411.60,472.06 L412.10,472.08 L412.60,472.10 L413.10,472.12 L413.60,472.14 L414.10,472.15 L414.60,472.17 L415.10,472.19 L415.60,472.21 L416.10,472.23 L416.60,472.24 L417.10,472.26 L417.60,472.28 L418.10,472.30 L418.60,472.32 L419.10,472.33 L419.60,472.35 L420.10,472.37 L420.60,472.39 L421.10,472.41 L421.60,472.43 L422.10,472.44 L422.60,472.46 L423.10,472.48 L423.60,472.50 L424.10,472.52 L424.60,472.53 L425.10,472.55 L425.60,472.57 L426.10,472.59 L426.60,472.61 L427.10,472.62 L427.60,472.64 L428.10,472.66 L428.60,472.68 L429.10,472.70 L429.60,472.71 L430.10,472.73 L430.60,472.75 L431.10,472.77 L431.60,472.79 L432.10,472.81 L432.60,472.82 L433.10,472.84 L433.60,472.86 L434.10,472.88 L434.60,472.90 L435.10,472.91 L435.60,472.93 L436.10,472.95 L436.60,472.97 L437.10,472.99 L437.60,473.00 L438.10,473.02 L438.60,473.04 L439.10,473.06 L439.60,473.08 L440.10,473.09 L440.60,473.11 L441.10,473.13 L441.60,473.15 L442.10,473.17 L442.60,473.19 L443.10,473.20 L443.60,473.21 L444.10,473.22 L444.60,473.23 L445.10,473.24 L445.60,473.25 L446.10,473.27 L446.60,473.28 L447.10,473.29 L447.60,473.30 L448.10,473.31 L448.60,473.32 L449.10,473.33 L449.60,473.34 L450.10,473.35 L450.60,473.36 L451.10,473.37 L451.60,473.38 L452.10,473.39 L452.60,473.40 L453.10,473.41 L453.60,473.42 L454.10,473.43 L454.60,473.44 L455.10,473.45 L455.60,473.47 L456.10,473.48 L456.60,473.49 L457.10,473.50 L457.60,473.51 L458.10,473.52 L458.60,473.53 L459.10,473.54 L459.60,473.55 L460.10,473.56 L460.60,473.57 L461.10,473.58 L461.60,473.59 L462.10,473.60 L462.60,473.61 L463.10,473.62 L463.60,473.63 L464.10,473.64 L464.60,473.65 L465.10,473.67 L465.60,473.68 L466.10,473.69 L466.60,473.70 L467.10,473.71 L467.60,473.72 L468.10,473.73 L468.60,473.74 L469.10,473.75 L469.60,473.76 L470.10,473.77 L470.60,473.78 L471.10,473.79 L471.60,473.80 L472.10,473.81 L472.60,473.82 L473.10,473.83 L473.60,473.84 L474.10,473.85 L474.60,473.87 L475.10,473.88 L475.60,473.89 L476.10,473.90 L476.60,473.91 L477.10,473.92 L477.60,473.93 L478.10,473.94 L478.60,473.95 L479.10,473.96 L479.60,473.97 L480.10,473.98 L480.60,473.99 L481.10,474.00 L481.60,474.01 L482.10,474.02 L482.60,474.03 L483.10,474.04 L483.60,474.05 L484.10,474.07 L484.60,474.08 L485.10,474.09 L485.60,474.10 L486.10,474.11 L486.60,474.12 L487.10,474.13 L487.60,474.14 L488.10,474.15 L488.60,474.16 L489.10,474.17 L489.60,474.18 L490.10,474.19 L490.60,474.20 L491.10,474.21 L491.60,474.22 L492.10,474.23 L492.60,474.24 L493.10,474.25 L493.60,474.27 L494.10,474.28 L494.60,474.29 L495.10,474.30 L495.60,474.31 L496.10,474.32 L496.60,474.33 L497.10,474.34 L497.60,474.35 L498.10,474.36 L498.60,474.37 L499.10,474.38 L499.60,474.39 L500.10,474.40 L500.60,474.40 L501.10,474.41 L501.60,474.41 L502.10,474.42 L502.60,474.42 L503.10,474.42 L503.60,474.43 L504.10,474.43 L504.60,474.43 L505.10,474.44 L505.60,474.44 L506.10,474.45 L506.60,474.45 L507.10,474.45 L507.60,474.46 L508.10,474.46 L508.60,474.46 L509.10,474.47 L509.60,474.47 L510.10,474.48 L510.60,474.48 L511.10,474.48 L511.60,474.49 L512.10,474.49 L512.60,474.49 L513.10,474.50 L513.60,474.50 L514.10,474.51 L514.60,474.51 L515.10,474.51 L515.60,474.52 L516.10,474.52 L516.60,474.52 L517.10,474.53 L517.60,474.53 L518.10,474.54 L518.60,474.54 L519.10,474.54 L519.60,474.55 L520.10,474.55 L520.60,474.55 L521.10,474.56 L521.60,474.56 L522.10,474.57 L522.60,474.57 L523.10,474.57 L523.60,474.58 L524.10,474.58 L524.60,474.58 L525.10,474.59 L525.60,474.59 L526.10,474.60 L526.60,474.60 L527.10,474.60 L527.60,474.61 L528.10,474.61 L528.60,474.61 L529.10,474.62 L529.60,474.62 L530.10,474.63 L530.60,474.63 L531.10,474.63 L531.60,474.64 L532.10,474.64 L532.60,474.64 L533.10,474.65 L533.60,474.65 L534.10,474.66 L534.60,474.66 L535.10,474.66 L535.60,474.67 L536.10,474.67 L536.60,474.67 L537.10,474.68 L537.60,474.68 L538.10,474.69 L538.60,474.69 L539.10,474.69 L539.60,474.70 L540.10,474.70 L540.60,474.71 L541.10,474.72 L541.60,474.72 L542.10,474.73 L542.60,474.74 L543.10,474.75 L543.60,474.75 L544.10,474.76 L544.60,474.77 L545.10,474.78 L545.60,474.78 L546.10,474.79 L546.60,474.80 L547.10,474.81 L547.60,474.81 L548.10,474.82 L548.60,474.83 L549.10,474.84 L549.60,474.84 L550.10,474.85 L550.60,474.86 L551.10,474.87 L551.60,474.87 L552.10,474.88 L552.60,474.89 L553.10,474.90 L553.60,474.90 L554.10,474.91 L554.60,474.92 L555.10,474.93 L555.60,474.93 L556.10,474.94 L556.60,474.95 L557.10,474.96 L557.60,474.96 L558.10,474.97 L558.60,474.98 L559.10,474.99 L559.60,474.99 L560.10,475.00 L560.60,475.01 L561.10,475.02 L561.60,475.02 L562.10,475.03 L562.60,475.04 L563.10,475.05 L563.60,475.05 L564.10,475.06 L564.60,475.07 L565.10,475.08 L565.60,475.08 L566.10,475.09 L566.60,475.10 L567.10,475.11 L567.60,475.11 L568.10,475.12 L568.60,475.13 L569.10,475.14 L569.60,475.14 L570.10,475.15 L570.60,475.16 L571.10,475.17 L571.60,475.17 L572.10,475.18 L572.60,475.19 L573.10,475.20 L573.60,475.20 L574.10,475.21 L574.60,475.22 L575.10,475.23 L575.60,475.23 L576.10,475.24 L576.60,475.25 L577.10,475.26 L577.60,475.26 L578.10,475.27 L578.60,475.28 L579.10,475.29 L579.60,475.29 L580.10,475.30 L580.60,475.31 L581.10,475.32 L581.60,475.32 L582.10,475.33 L582.60,475.34 L583.10,475.35 L583.60,475.35 L584.10,475.36 L584.60,475.37 L585.10,475.38 L585.60,475.38 L586.10,475.39 L586.60,475.40 L587.10,475.41 L587.60,475.41 L588.10,475.42 L588.60,475.43 L589.10,475.44 L589.60,475.44 L590.10,475.45 L590.60,475.46 L591.10,475.47 L591.60,475.47 L592.10,475.48 L592.60,475.49 L593.10,475.50 L593.60,475.50 L594.10,475.51 L594.60,475.52 L595.10,475.53 L595.60,475.53 L596.10,475.54 L596.60,475.55 L597.10,475.56 L597.60,475.56 L598.10,475.57 L598.60,475.58 L599.10,475.59 L599.60,475.59 L600.10,475.60 L600.60,475.60 L601.10,475.61 L601.60,475.61 L602.10,475.61 L602.60,475.62 L603.10,475.62 L603.60,475.62 L604.10,475.63 L604.60,475.63 L605.10,475.63 L605.60,475.64 L606.10,475.64 L606.60,475.64 L607.10,475.65 L607.60,475.65 L608.10,475.65 L608.60,475.66 L609.10,475.66 L609.60,475.66 L610.10,475.67 L610.60,475.67 L611.10,475.68 L611.60,475.68 L612.10,475.68 L612.60,475.69 L613.10,475.69 L613.60,475.69 L614.10,475.70 L614.60,475.70 L615.10,475.70 L615.60,475.71 L616.10,475.71 L616.60,475.71 L617.10,475.72 L617.60,475.72 L618.10,475.72 L618.60,475.73 L619.10,475.73 L619.60,475.73 L620.10,475.74 L620.60,475.74 L621.10,475.74 L621.60,475.75 L622.10,475.75 L622.60,475.75 L623.10,475.76 L623.60,475.76 L624.10,475.76 L624.60,475.77 L625.10,475.77 L625.60,475.77 L626.10,475.78 L626.60,475.78 L627.10,475.78 L627.60,475.79 L628.10,475.79 L628.60,475.79 L629.10,475.80 L629.60,475.80 L630.10,475.80 L630.60,475.81 L631.10,475.81 L631.60,475.81 L632.10,475.82 L632.60,475.82 L633.10,475.82 L633.60,475.83 L634.10,475.83 L634.60,475.83 L635.10,475.84 L635.60,475.84 L636.10,475.84 L636.60,475.85 L637.10,475.85 L637.60,475.85 L638.10,475.86 L638.60,475.86 L639.10,475.86 L639.60,475.87 L640.10,475.87 L640.60,475.87 L641.10,475.88 L641.60,475.88 L642.10,475.88 L642.60,475.89 L643.10,475.89 L643.60,475.89 L644.10,475.90 L644.60,475.90 L645.10,475.90 L645.60,475.91 L646.10,475.91 L646.60,475.91 L647.10,475.92 L647.60,475.92 L648.10,475.93 L648.60,475.93 L649.10,475.93 L649.60,475.94 L650.10,475.94 L650.60,475.94 L651.10,475.95 L651.60,475.95 L652.10,475.95 L652.60,475.96 L653.10,475.96 L653.60,475.96 L654.10,475.97 L654.60,475.97 L655.10,475.97 L655.60,475.98 L656.10,475.98 L656.60,475.98 L657.10,475.99 L657.60,475.99 L658.10,475.99 L658.60,476.00 L659.10,476.00 L659.60,476.00 L660.10,476.01 L660.60,476.01 L661.10,476.01 L661.60,476.02 L662.10,476.02 L662.60,476.02 L663.10,476.03 L663.60,476.03 L664.10,476.03 L664.60,476.04 L665.10,476.04 L665.60,476.04 L666.10,476.05 L666.60,476.05 L667.10,476.05 L667.60,476.06 L668.10,476.06 L668.60,476.06 L669.10,476.07 L669.60,476.07 L670.10,476.07 L670.60,476.08 L671.10,476.08 L671.60,476.08 L672.10,476.09 L672.60,476.09 L673.10,476.09 L673.60,476.10" fill="none" stroke="#3c3296" stroke-width="1.9"/>
<path d="M538.10,474.88 L538.60,474.91 L539.10,474.93 L539.60,474.95 L540.10,474.98 L540.60,475.01 L541.10,475.04 L541.60,475.06 L542.10,475.09 L542.60,475.12 L543.10,475.15 L543.60,475.18 L544.10,475.20 L544.60,475.23 L545.10,475.26 L545.60,475.29 L546.10,475.31 L546.60,475.34 L547.10,475.37 L547.60,475.40 L548.10,475.42 L548.60,475.43 L549.10,475.44 L549.60,475.45 L550.10,475.46 L550.60,475.47 L551.10,475.48 L551.60,475.49 L552.10,475.50 L552.60,475.51 L553.10,475.52 L553.60,475.53 L554.10,475.54 L554.60,475.55 L555.10,475.56 L555.60,475.57 L556.10,475.57 L556.60,475.58 L557.10,475.59 L557.60,475.60 L558.10,475.61 L558.60,475.62 L559.10,475.63 L559.60,475.64 L560.10,475.65 L560.60,475.66 L561.10,475.67 L561.60,475.68 L562.10,475.69 L562.60,475.70 L563.10,475.71 L563.60,475.71 L564.10,475.72 L564.60,475.73 L565.10,475.74 L565.60,475.75 L566.10,475.76 L566.60,475.77 L567.10,475.78 L567.60,475.79 L568.10,475.80 L568.60,475.81 L569.10,475.82 L569.60,475.83 L570.10,475.84 L570.60,475.84 L571.10,475.85 L571.60,475.86 L572.10,475.87 L572.60,475.88 L573.10,475.89 L573.60,475.90 L574.10,475.91 L574.60,475.92 L575.10,475.93 L575.60,475.94 L576.10,475.95 L576.60,475.95 L577.10,475.96 L577.60,475.97 L578.10,475.98 L578.60,475.99 L579.10,476.00 L579.60,476.01 L580.10,476.02 L580.60,476.03 L581.10,476.04 L581.60,476.05 L582.10,476.05 L582.60,476.06 L583.10,476.07 L583.60,476.08 L584.10,476.09 L584.60,476.10 L585.10,476.11 L585.60,476.12 L586.10,476.13 L586.60,476.14 L587.10,476.15 L587.60,476.15 L588.10,476.16 L588.60,476.17 L589.10,476.18 L589.60,476.19 L590.10,476.20 L590.60,476.23 L591.10,476.25 L591.60,476.28 L592.10,476.30 L592.60,476.33 L593.10,476.35 L593.60,476.37 L594.10,476.40 L594.60,476.42 L595.10,476.45 L595.60,476.47 L596.10,476.50 L596.60,476.52 L597.10,476.55 L597.60,476.57" fill="none" stroke="#3cc8dc" stroke-width="1.6"/>
<path d="M385.60,471.03 L386.10,471.05 L386.60,471.07 L387.10,471.08 L387.60,471.10 L388.10,471.12 L388.60,471.14 L389.10,471.15 L389.60,471.17 L390.10,471.19 L390.60,471.21 L391.10,471.22 L391.60,471.24 L392.10,471.26 L392.60,471.28 L393.10,471.29 L393.60,471.31 L394.10,471.33 L394.60,471.35 L395.10,471.36 L395.60,471.38 L396.10,471.40 L396.60,471.42 L397.10,471.43 L397.60,471.45 L398.10,471.47 L398.60,471.49 L399.10,471.50 L399.60,471.52 L400.10,471.54 L400.60,471.56 L401.10,471.57 L401.60,471.59 L402.10,471.61 L402.60,471.63 L403.10,471.64 L403.60,471.66 L404.10,471.68 L404.60,471.70 L405.10,471.71 L405.60,471.73 L406.10,471.75 L406.60,471.77 L407.10,471.78 L407.60,471.80 L408.10,471.82 L408.60,471.84 L409.10,471.85 L409.60,471.87 L410.10,471.89 L410.60,471.91 L411.10,471.92 L411.60,471.94 L412.10,471.96 L412.60,471.97 L413.10,471.99 L413.60,472.01 L414.10,472.03 L414.60,472.04 L415.10,472.06 L415.60,472.08 L416.10,472.10 L416.60,472.11 L417.10,472.13 L417.60,472.15 L418.10,472.16 L418.60,472.18 L419.10,472.20 L419.60,472.22 L420.10,472.23 L420.60,472.25 L421.10,472.27 L421.60,472.28 L422.10,472.30 L422.60,472.32 L423.10,472.34 L423.60,472.35 L424.10,472.37 L424.60,472.39 L425.10,472.40 L425.60,472.42 L426.10,472.44 L426.60,472.46 L427.10,472.47 L427.60,472.49 L428.10,472.51 L428.60,472.52 L429.10,472.54 L429.60,472.56 L430.10,472.58 L430.60,472.59 L431.10,472.61 L431.60,472.63 L432.10,472.64 L432.60,472.66 L433.10,472.68 L433.60,472.69 L434.10,472.71 L434.60,472.73 L435.10,472.74 L435.60,472.76 L436.10,472.78 L436.60,472.79 L437.10,472.81 L437.60,472.83 L438.10,472.85 L438.60,472.86 L439.10,472.88 L439.60,472.90 L440.10,472.91 L440.60,472.93 L441.10,472.95 L441.60,472.96 L442.10,472.98 L442.60,473.00 L443.10,473.01 L443.60,473.02 L444.10,473.03 L444.60,473.04 L445.10,473.05 L445.60,473.06 L446.10,473.06 L446.60,473.07 L447.10,473.08 L447.60,473.09 L448.10,473.10 L448.60,473.11 L449.10,473.12 L449.60,473.13 L450.10,473.13 L450.60,473.14 L451.10,473.15 L451.60,473.16 L452.10,473.17 L452.60,473.18 L453.10,473.19 L453.60,473.20 L454.10,473.20 L454.60,473.21 L455.10,473.22 L455.60,473.23 L456.10,473.24 L456.60,473.25 L457.10,473.25 L457.60,473.26 L458.10,473.27 L458.60,473.28 L459.10,473.29 L459.60,473.30 L460.10,473.30 L460.60,473.31 L461.10,473.32 L461.60,473.33 L462.10,473.34 L462.60,473.35 L463.10,473.35 L463.60,473.36 L464.10,473.37 L464.60,473.38 L465.10,473.39 L465.60,473.39 L466.10,473.40 L466.60,473.41 L467.10,473.42 L467.60,473.42 L468.10,473.43 L468.60,473.44 L469.10,473.45 L469.60,473.45 L470.10,473.46 L470.60,473.47 L471.10,473.48 L471.60,473.48 L472.10,473.49 L472.60,473.50 L473.10,473.51 L473.60,473.51 L474.10,473.52 L474.60,473.53 L475.10,473.53 L475.60,473.54 L476.10,473.55 L476.60,473.55 L477.10,473.56 L477.60,473.57 L478.10,473.57 L478.60,473.58 L479.10,473.59 L479.60,473.59 L480.10,473.60 L480.60,473.61 L481.10,473.61 L481.60,473.62 L482.10,473.63 L482.60,473.63 L483.10,473.64 L483.60,473.64 L484.10,473.65 L484.60,473.65 L485.10,473.66 L485.60,473.67 L486.10,473.67 L486.60,473.68 L487.10,473.68 L487.60,473.69 L488.10,473.69 L488.60,473.70 L489.10,473.70 L489.60,473.71 L490.10,473.71 L490.60,473.72 L491.10,473.72 L491.60,473.72 L492.10,473.73 L492.60,473.73 L493.10,473.74 L493.60,473.74 L494.10,473.74 L494.60,473.75 L495.10,473.75 L495.60,473.75 L496.10,473.76 L496.60,473.76 L497.10,473.76 L497.60,473.77 L498.10,473.77 L498.60,473.77 L499.10,473.77 L499.60,473.78 L500.10,473.78 L500.60,473.77 L501.10,473.77 L501.60,473.76 L502.10,473.75 L502.60,473.75 L503.10,473.74 L503.60,473.74 L504.10,473.73 L504.60,473.72 L505.10,473.72 L505.60,473.71 L506.10,473.70 L506.60,473.69 L507.10,473.69 L507.60,473.68 L508.10,473.67 L508.60,473.66 L509.10,473.65 L509.60,473.64 L510.10,473.63 L510.60,473.62 L511.10,473.61 L511.60,473.60 L512.10,473.59 L512.60,473.58 L513.10,473.56 L513.60,473.55 L514.10,473.54 L514.60,473.53 L515.10,473.51 L515.60,473.50 L516.10,473.48 L516.60,473.47 L517.10,473.45 L517.60,473.44 L518.10,473.42 L518.60,473.40 L519.10,473.39 L519.60,473.37 L520.10,473.35 L520.60,473.33 L521.10,473.31 L521.60,473.29 L522.10,473.26 L522.60,473.24 L523.10,473.22 L523.60,473.19 L524.10,473.17 L524.60,473.14 L525.10,473.12 L525.60,473.09 L526.10,473.06 L526.60,473.03 L527.10,473.00 L527.60,472.96 L528.10,472.93 L528.60,472.89 L529.10,472.85 L529.60,472.81 L530.10,472.78 L530.60,472.75 L531.10,472.73 L531.60,472.70 L532.10,472.67 L532.60,472.63 L533.10,472.60 L533.60,472.55 L534.10,472.51 L534.60,472.46 L535.10,472.40 L535.60,472.34 L536.10,472.27 L536.60,472.19 L537.10,472.11 L537.60,472.01 L538.10,471.90 L538.60,471.78 L539.10,471.65 L539.60,471.50 L540.10,471.33 L540.60,471.15 L541.10,470.94 L541.60,470.70 L542.10,470.44 L542.60,470.14 L543.10,469.81 L543.60,469.43 L544.10,469.02 L544.60,468.55 L545.10,468.03 L545.60,467.45 L546.10,466.81 L546.60,466.10 L547.10,465.31 L547.60,464.44 L548.10,463.47 L548.60,462.40 L549.10,461.23 L549.60,459.95 L550.10,458.56 L550.60,457.06 L551.10,455.42 L551.60,453.66 L552.10,451.77 L552.60,449.74 L553.10,447.57 L553.60,445.26 L554.10,442.80 L554.60,440.20 L555.10,437.46 L555.60,434.58 L556.10,431.56 L556.60,428.41 L557.10,425.14 L557.60,421.75 L558.10,418.25 L558.60,414.66 L559.10,410.99 L559.60,407.25 L560.10,403.46 L560.60,399.64 L561.10,395.81 L561.60,391.99 L562.10,388.20 L562.60,384.47 L563.10,380.83 L563.60,377.29 L564.10,373.89 L564.60,370.66 L565.10,367.62 L565.60,364.81 L566.10,362.25 L566.60,359.97 L567.10,358.00 L567.60,356.35 L568.10,355.05 L568.60,354.11 L569.10,353.55 L569.60,353.38 L570.10,353.58 L570.60,354.18 L571.10,355.15 L571.60,356.48 L572.10,358.16 L572.60,360.16 L573.10,362.47 L573.60,365.06 L574.10,367.90 L574.60,370.96 L575.10,374.22 L575.60,377.64 L576.10,381.20 L576.60,384.86 L577.10,388.61 L577.60,392.42 L578.10,396.26 L578.60,400.11 L579.10,403.95 L579.60,407.75 L580.10,411.50 L580.60,415.19 L581.10,418.80 L581.60,422.31 L582.10,425.71 L582.60,428.99 L583.10,432.16 L583.60,435.19 L584.10,438.08 L584.60,440.83 L585.10,443.44 L585.60,445.91 L586.10,448.23 L586.60,450.42 L587.10,452.46 L587.60,454.36 L588.10,456.13 L588.60,457.78 L589.10,459.30 L589.60,460.70 L590.10,462.00 L590.60,463.20 L591.10,464.30 L591.60,465.30 L592.10,466.22 L592.60,467.06 L593.10,467.82 L593.60,468.51 L594.10,469.14 L594.60,469.71 L595.10,470.22 L595.60,470.69 L596.10,471.11 L596.60,471.49 L597.10,471.84 L597.60,472.15 L598.10,472.44 L598.60,472.70 L599.10,472.93 L599.60,473.15 L600.10,473.35 L600.60,473.52 L601.10,473.69 L601.60,473.84 L602.10,473.97 L602.60,474.10 L603.10,474.22 L603.60,474.33 L604.10,474.44 L604.60,474.54 L605.10,474.63 L605.60,474.70 L606.10,474.77 L606.60,474.83 L607.10,474.89 L607.60,474.95 L608.10,475.00 L608.60,475.05 L609.10,475.10 L609.60,475.15 L610.10,475.19 L610.60,475.23 L611.10,475.28 L611.60,475.32 L612.10,475.35 L612.60,475.39 L613.10,475.43 L613.60,475.46 L614.10,475.50 L614.60,475.53 L615.10,475.56 L615.60,475.59 L616.10,475.62 L616.60,475.65 L617.10,475.68 L617.60,475.71 L618.10,475.73 L618.60,475.76 L619.10,475.79 L619.60,475.81 L620.10,475.84 L620.60,475.86 L621.10,475.88 L621.60,475.90 L622.10,475.93 L622.60,475.95 L623.10,475.97 L623.60,475.99 L624.10,476.01 L624.60,476.03 L625.10,476.05 L625.60,476.06 L626.10,476.08 L626.60,476.10 L627.10,476.12 L627.60,476.13 L628.10,476.15 L628.60,476.17 L629.10,476.18 L629.60,476.20 L630.10,476.21 L630.60,476.23 L631.10,476.24 L631.60,476.26 L632.10,476.27 L632.60,476.28 L633.10,476.30 L633.60,476.31 L634.10,476.32 L634.60,476.34 L635.10,476.35 L635.60,476.36 L636.10,476.37 L636.60,476.39 L637.10,476.40 L637.60,476.41 L638.10,476.42 L638.60,476.43 L639.10,476.44 L639.60,476.45 L640.10,476.46 L640.60,476.47 L641.10,476.48 L641.60,476.49 L642.10,476.50 L642.60,476.51 L643.10,476.52 L643.60,476.53 L644.10,476.54 L644.60,476.55 L645.10,476.56 L645.60,476.57 L646.10,476.58 L646.60,476.58 L647.10,476.59 L647.60,476.60 L648.10,476.61 L648.60,476.62 L649.10,476.62 L649.60,476.63 L650.10,476.64 L650.60,476.65 L651.10,476.65 L651.60,476.66 L652.10,476.67 L652.60,476.68 L653.10,476.68 L653.60,476.69 L654.10,476.70 L654.60,476.70 L655.10,476.71 L655.60,476.72 L656.10,476.72 L656.60,476.73 L657.10,476.74 L657.60,476.74 L658.10,476.75 L658.60,476.76 L659.10,476.76 L659.60,476.77 L660.10,476.77 L660.60,476.78 L661.10,476.79 L661.60,476.79 L662.10,476.80 L662.60,476.80 L663.10,476.81 L663.60,476.81 L664.10,476.82 L664.60,476.83 L665.10,476.83 L665.60,476.84 L666.10,476.84 L666.60,476.85 L667.10,476.85 L667.60,476.86 L668.10,476.86 L668.60,476.87 L669.10,476.87 L669.60,476.88 L670.10,476.88 L670.60,476.89 L671.10,476.89 L671.60,476.90 L672.10,476.90 L672.60,476.91 L673.10,476.91 L673.60,476.92" fill="none" stroke="#8232be" stroke-width="1.3"/>
<text x="552.0" y="302.4" font-size="17" font-weight="bold" fill="#1a10c8">C<tspan font-size="10" dy="5.6">1s</tspan></text>
</svg></body></html>
